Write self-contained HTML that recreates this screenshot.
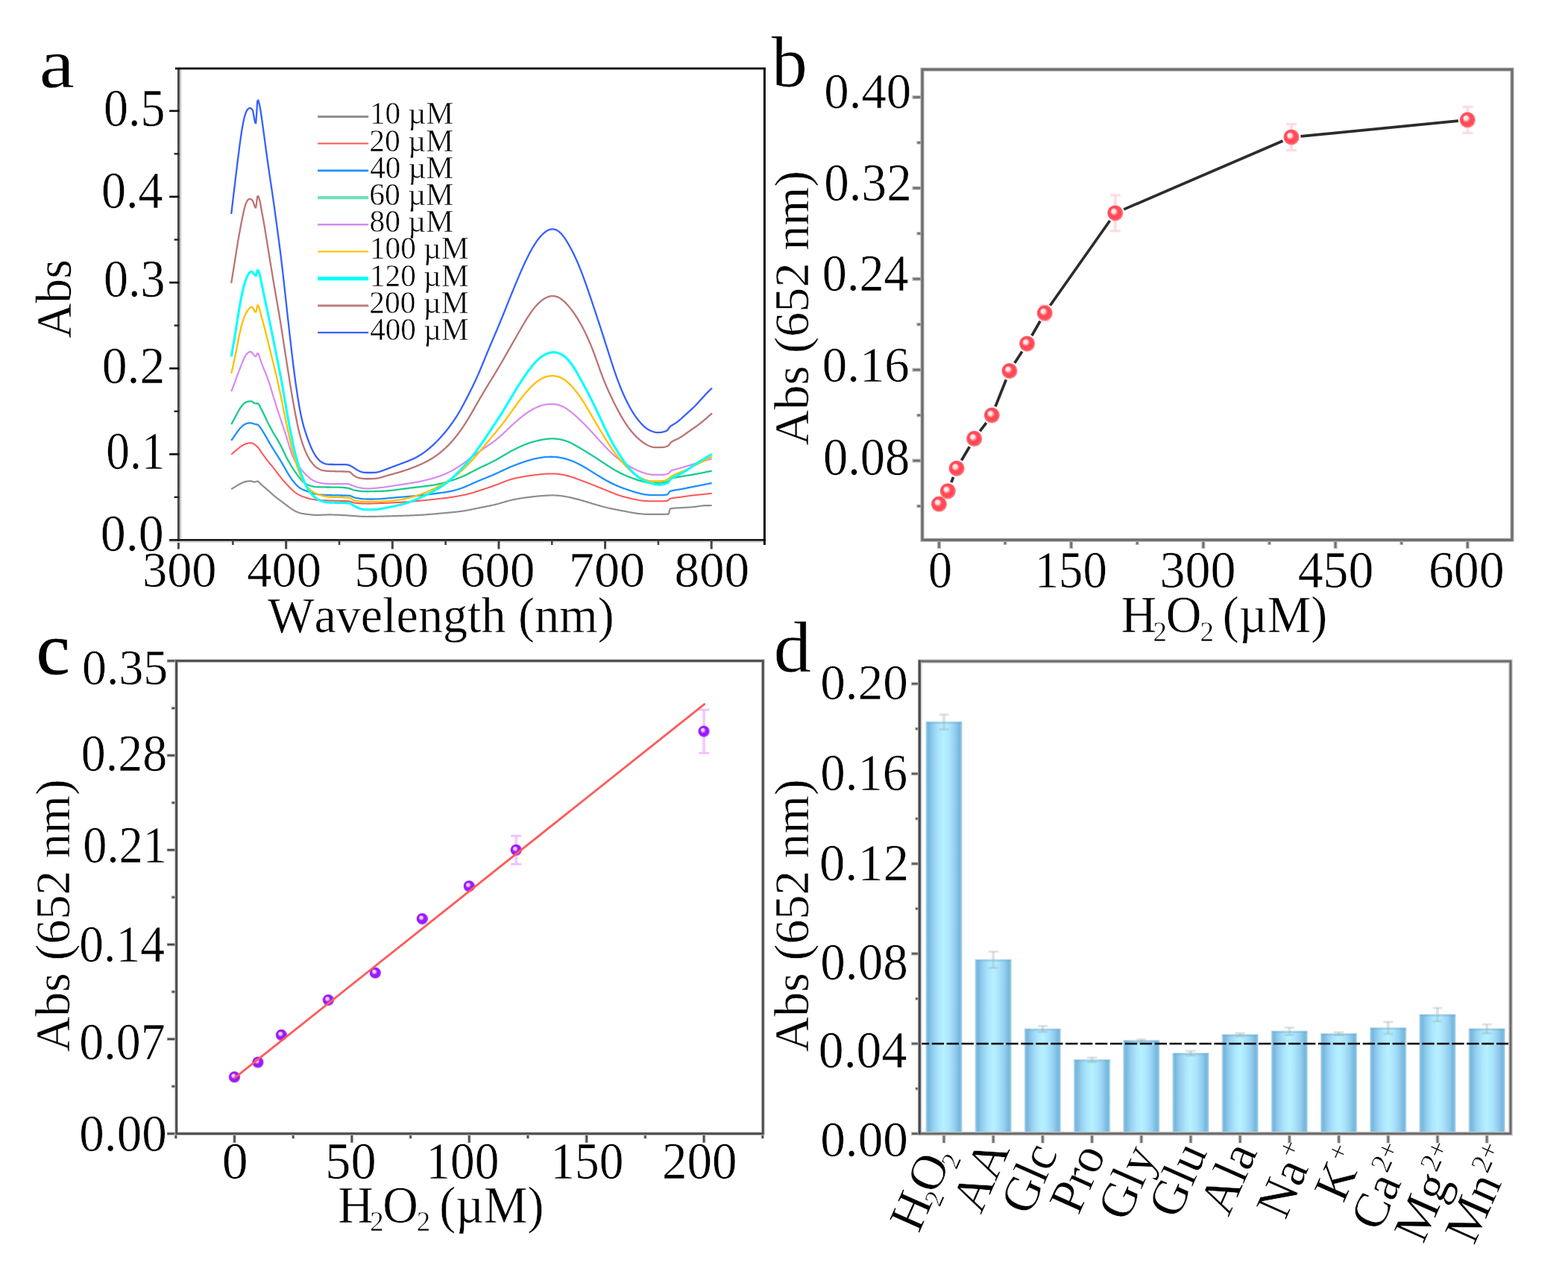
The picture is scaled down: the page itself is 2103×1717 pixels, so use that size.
<!DOCTYPE html>
<html lang="en">
<head>
<meta charset="utf-8">
<title>H2O2 colorimetric detection figure</title>
<style>
html,body{margin:0;padding:0;background:#fff;}
body{width:2103px;height:1717px;overflow:hidden;}
svg{display:block;font-family:'Liberation Serif', serif;}
text{font-family:'Liberation Serif', serif;font-kerning:none;font-variant-ligatures:none;}
.t{stroke:#fff;stroke-width:0.5px;}
</style>
</head>
<body>
<svg width="2103" height="1717" viewBox="0 0 2103 1717">
<defs>
<radialGradient id="gb" cx="0.5" cy="0.5" r="0.5" fx="0.36" fy="0.34"><stop offset="0" stop-color="#ffe9ea"/><stop offset="0.22" stop-color="#ffe9ea"/><stop offset="0.5" stop-color="#ff4a55"/><stop offset="0.8" stop-color="#ff4a55"/><stop offset="1" stop-color="#ff8c95"/></radialGradient>
<radialGradient id="gc" cx="0.5" cy="0.5" r="0.5" fx="0.36" fy="0.34"><stop offset="0" stop-color="#ead0ff"/><stop offset="0.22" stop-color="#ead0ff"/><stop offset="0.5" stop-color="#9a18ff"/><stop offset="0.8" stop-color="#9a18ff"/><stop offset="1" stop-color="#c070ff"/></radialGradient>
<linearGradient id="gd" x1="0" x2="1" y1="0" y2="0"><stop offset="0" stop-color="#8fc6e6"/><stop offset="0.06" stop-color="#74b8de"/><stop offset="0.2" stop-color="#97d0f0"/><stop offset="0.36" stop-color="#abe6fd"/><stop offset="0.5" stop-color="#b7f0ff"/><stop offset="0.64" stop-color="#abe6fd"/><stop offset="0.8" stop-color="#97d0f0"/><stop offset="0.94" stop-color="#74b8de"/><stop offset="1" stop-color="#8fc6e6"/></linearGradient>
</defs>
<rect x="0" y="0" width="2103" height="1717" fill="#ffffff"/>
<path d="M310.2 656.1 L311.2 655.49 L312.2 654.89 L313.2 654.28 L314.2 653.67 L315.2 653.07 L316.2 652.47 L317.2 651.86 L318.2 651.26 L319.2 650.66 L320.2 650.07 L321.2 649.49 L322.2 648.94 L323.2 648.42 L324.2 647.93 L325.2 647.49 L326.2 647.09 L327.2 646.72 L328.2 646.4 L329.2 646.12 L330.2 645.88 L331.2 645.69 L332.2 645.53 L333.2 645.43 L334.2 645.35 L335.2 645.29 L336.2 645.31 L337.2 645.46 L338.2 645.74 L339.2 646.1 L340.2 646.45 L341.2 646.6 L342.2 646.47 L343.2 646.14 L344.2 645.79 L345.2 645.6 L346.2 645.85 L347.2 646.61 L348.2 647.68 L349.2 648.87 L350.2 649.89 L351.2 650.71 L352.2 651.52 L353.2 652.32 L354.2 653.15 L355.2 654 L356.2 654.84 L357.2 655.7 L358.2 656.58 L359.2 657.47 L360.2 658.37 L361.2 659.27 L362.2 660.18 L363.2 661.09 L364.2 661.99 L365.2 662.88 L366.2 663.77 L367.2 664.63 L368.2 665.49 L369.2 666.32 L370.2 667.14 L371.2 667.94 L372.2 668.72 L373.2 669.48 L374.2 670.22 L375.2 670.95 L376.2 671.67 L377.2 672.39 L378.2 673.12 L379.2 673.85 L380.2 674.6 L381.2 675.37 L382.2 676.14 L383.2 676.92 L384.2 677.7 L385.2 678.48 L386.2 679.23 L387.2 679.98 L388.2 680.7 L389.2 681.41 L390.2 682.1 L391.2 682.76 L392.2 683.41 L393.2 684.03 L394.2 684.63 L395.2 685.19 L396.2 685.71 L397.2 686.2 L398.2 686.64 L399.2 687.05 L400.2 687.42 L401.2 687.76 L402.2 688.06 L403.2 688.33 L404.2 688.58 L405.2 688.8 L406.2 688.99 L407.2 689.17 L408.2 689.33 L409.2 689.48 L410.2 689.62 L411.2 689.75 L412.2 689.88 L413.2 690.01 L414.2 690.13 L415.2 690.25 L416.2 690.37 L417.2 690.48 L418.2 690.58 L419.2 690.67 L420.2 690.75 L421.2 690.82 L422.2 690.87 L423.2 690.91 L424.2 690.93 L425.2 690.93 L426.2 690.93 L427.2 690.91 L428.2 690.88 L429.2 690.85 L430.2 690.81 L431.2 690.77 L432.2 690.72 L433.2 690.68 L434.2 690.63 L435.2 690.59 L436.2 690.55 L437.2 690.51 L438.2 690.49 L439.2 690.46 L440.2 690.45 L441.2 690.44 L442.2 690.43 L443.2 690.44 L444.2 690.45 L445.2 690.47 L446.2 690.49 L447.2 690.51 L448.2 690.54 L449.2 690.58 L450.2 690.61 L451.2 690.65 L452.2 690.69 L453.2 690.74 L454.2 690.78 L455.2 690.83 L456.2 690.88 L457.2 690.92 L458.2 690.97 L459.2 691.03 L460.2 691.08 L461.2 691.13 L462.2 691.19 L463.2 691.25 L464.2 691.31 L465.2 691.38 L466.2 691.45 L467.2 691.53 L468.2 691.6 L469.2 691.68 L470.2 691.76 L471.2 691.83 L472.2 691.91 L473.2 691.98 L474.2 692.05 L475.2 692.12 L476.2 692.19 L477.2 692.25 L478.2 692.33 L479.2 692.4 L480.2 692.48 L481.2 692.55 L482.2 692.62 L483.2 692.69 L484.2 692.75 L485.2 692.81 L486.2 692.85 L487.2 692.9 L488.2 692.93 L489.2 692.95 L490.2 692.97 L491.2 692.98 L492.2 692.98 L493.2 692.98 L494.2 692.97 L495.2 692.96 L496.2 692.95 L497.2 692.94 L498.2 692.93 L499.2 692.91 L500.2 692.9 L501.2 692.88 L502.2 692.86 L503.2 692.84 L504.2 692.81 L505.2 692.79 L506.2 692.77 L507.2 692.74 L508.2 692.72 L509.2 692.69 L510.2 692.67 L511.2 692.64 L512.2 692.61 L513.2 692.58 L514.2 692.55 L515.2 692.53 L516.2 692.5 L517.2 692.47 L518.2 692.44 L519.2 692.41 L520.2 692.38 L521.2 692.35 L522.2 692.33 L523.2 692.3 L524.2 692.27 L525.2 692.24 L526.2 692.21 L527.2 692.19 L528.2 692.16 L529.2 692.13 L530.2 692.1 L531.2 692.07 L532.2 692.04 L533.2 692.01 L534.2 691.99 L535.2 691.96 L536.2 691.93 L537.2 691.9 L538.2 691.87 L539.2 691.84 L540.2 691.8 L541.2 691.77 L542.2 691.74 L543.2 691.71 L544.2 691.67 L545.2 691.64 L546.2 691.61 L547.2 691.57 L548.2 691.53 L549.2 691.5 L550.2 691.46 L551.2 691.42 L552.2 691.38 L553.2 691.34 L554.2 691.3 L555.2 691.26 L556.2 691.21 L557.2 691.17 L558.2 691.12 L559.2 691.07 L560.2 691.02 L561.2 690.97 L562.2 690.91 L563.2 690.86 L564.2 690.8 L565.2 690.74 L566.2 690.68 L567.2 690.61 L568.2 690.54 L569.2 690.48 L570.2 690.41 L571.2 690.33 L572.2 690.26 L573.2 690.18 L574.2 690.1 L575.2 690.02 L576.2 689.94 L577.2 689.86 L578.2 689.77 L579.2 689.69 L580.2 689.6 L581.2 689.51 L582.2 689.42 L583.2 689.33 L584.2 689.24 L585.2 689.15 L586.2 689.06 L587.2 688.97 L588.2 688.88 L589.2 688.78 L590.2 688.69 L591.2 688.6 L592.2 688.51 L593.2 688.41 L594.2 688.32 L595.2 688.23 L596.2 688.14 L597.2 688.05 L598.2 687.96 L599.2 687.87 L600.2 687.78 L601.2 687.68 L602.2 687.59 L603.2 687.5 L604.2 687.41 L605.2 687.31 L606.2 687.22 L607.2 687.12 L608.2 687.02 L609.2 686.92 L610.2 686.82 L611.2 686.71 L612.2 686.6 L613.2 686.49 L614.2 686.37 L615.2 686.25 L616.2 686.13 L617.2 686 L618.2 685.86 L619.2 685.73 L620.2 685.58 L621.2 685.43 L622.2 685.27 L623.2 685.11 L624.2 684.94 L625.2 684.77 L626.2 684.59 L627.2 684.41 L628.2 684.22 L629.2 684.02 L630.2 683.83 L631.2 683.63 L632.2 683.42 L633.2 683.22 L634.2 683.01 L635.2 682.8 L636.2 682.59 L637.2 682.39 L638.2 682.18 L639.2 681.97 L640.2 681.76 L641.2 681.56 L642.2 681.35 L643.2 681.15 L644.2 680.95 L645.2 680.75 L646.2 680.55 L647.2 680.36 L648.2 680.16 L649.2 679.97 L650.2 679.77 L651.2 679.58 L652.2 679.38 L653.2 679.19 L654.2 678.99 L655.2 678.79 L656.2 678.59 L657.2 678.38 L658.2 678.18 L659.2 677.96 L660.2 677.74 L661.2 677.52 L662.2 677.29 L663.2 677.05 L664.2 676.81 L665.2 676.56 L666.2 676.3 L667.2 676.03 L668.2 675.76 L669.2 675.48 L670.2 675.2 L671.2 674.91 L672.2 674.62 L673.2 674.32 L674.2 674.03 L675.2 673.73 L676.2 673.43 L677.2 673.14 L678.2 672.85 L679.2 672.57 L680.2 672.29 L681.2 672.02 L682.2 671.75 L683.2 671.49 L684.2 671.24 L685.2 671 L686.2 670.77 L687.2 670.54 L688.2 670.33 L689.2 670.12 L690.2 669.91 L691.2 669.71 L692.2 669.52 L693.2 669.34 L694.2 669.16 L695.2 668.98 L696.2 668.81 L697.2 668.64 L698.2 668.48 L699.2 668.32 L700.2 668.17 L701.2 668.02 L702.2 667.87 L703.2 667.73 L704.2 667.58 L705.2 667.45 L706.2 667.31 L707.2 667.18 L708.2 667.05 L709.2 666.92 L710.2 666.79 L711.2 666.67 L712.2 666.55 L713.2 666.43 L714.2 666.31 L715.2 666.2 L716.2 666.09 L717.2 665.98 L718.2 665.87 L719.2 665.77 L720.2 665.67 L721.2 665.58 L722.2 665.48 L723.2 665.39 L724.2 665.31 L725.2 665.22 L726.2 665.14 L727.2 665.07 L728.2 664.99 L729.2 664.92 L730.2 664.86 L731.2 664.79 L732.2 664.74 L733.2 664.68 L734.2 664.63 L735.2 664.59 L736.2 664.55 L737.2 664.52 L738.2 664.49 L739.2 664.48 L740.2 664.47 L741.2 664.46 L742.2 664.47 L743.2 664.49 L744.2 664.52 L745.2 664.56 L746.2 664.61 L747.2 664.67 L748.2 664.74 L749.2 664.82 L750.2 664.92 L751.2 665.03 L752.2 665.14 L753.2 665.27 L754.2 665.41 L755.2 665.56 L756.2 665.71 L757.2 665.87 L758.2 666.04 L759.2 666.22 L760.2 666.41 L761.2 666.6 L762.2 666.79 L763.2 666.99 L764.2 667.2 L765.2 667.42 L766.2 667.64 L767.2 667.86 L768.2 668.09 L769.2 668.33 L770.2 668.57 L771.2 668.82 L772.2 669.08 L773.2 669.34 L774.2 669.6 L775.2 669.87 L776.2 670.15 L777.2 670.43 L778.2 670.71 L779.2 670.99 L780.2 671.28 L781.2 671.57 L782.2 671.86 L783.2 672.16 L784.2 672.45 L785.2 672.75 L786.2 673.05 L787.2 673.35 L788.2 673.65 L789.2 673.95 L790.2 674.25 L791.2 674.55 L792.2 674.85 L793.2 675.16 L794.2 675.46 L795.2 675.76 L796.2 676.07 L797.2 676.37 L798.2 676.67 L799.2 676.97 L800.2 677.27 L801.2 677.56 L802.2 677.85 L803.2 678.14 L804.2 678.43 L805.2 678.71 L806.2 678.99 L807.2 679.26 L808.2 679.53 L809.2 679.79 L810.2 680.04 L811.2 680.3 L812.2 680.54 L813.2 680.78 L814.2 681.02 L815.2 681.25 L816.2 681.48 L817.2 681.7 L818.2 681.92 L819.2 682.13 L820.2 682.34 L821.2 682.55 L822.2 682.76 L823.2 682.96 L824.2 683.16 L825.2 683.36 L826.2 683.56 L827.2 683.76 L828.2 683.95 L829.2 684.15 L830.2 684.34 L831.2 684.54 L832.2 684.73 L833.2 684.93 L834.2 685.12 L835.2 685.32 L836.2 685.51 L837.2 685.7 L838.2 685.9 L839.2 686.09 L840.2 686.28 L841.2 686.47 L842.2 686.66 L843.2 686.84 L844.2 687.03 L845.2 687.21 L846.2 687.39 L847.2 687.57 L848.2 687.74 L849.2 687.91 L850.2 688.07 L851.2 688.23 L852.2 688.39 L853.2 688.54 L854.2 688.68 L855.2 688.82 L856.2 688.94 L857.2 689.06 L858.2 689.17 L859.2 689.28 L860.2 689.37 L861.2 689.47 L862.2 689.55 L863.2 689.63 L864.2 689.69 L865.2 689.74 L866.2 689.79 L867.2 689.82 L868.2 689.84 L869.2 689.86 L870.2 689.87 L871.2 689.88 L872.2 689.89 L873.2 689.89 L874.2 689.89 L875.2 689.9 L876.2 689.9 L877.2 689.9 L878.2 689.9 L879.2 689.9 L880.2 689.9 L881.2 689.9 L882.2 689.9 L883.2 689.9 L884.2 689.9 L885.2 689.9 L886.2 689.9 L887.2 689.9 L888.2 689.89 L889.2 689.88 L890.2 689.85 L891.2 689.81 L892.2 689.74 L893.2 689.66 L894.2 689.62 L895.2 689.67 L896.2 689.9 L897.2 688.25 L898.2 683.65 L899.2 682.22 L900.2 682.05 L901.2 682.04 L902.2 681.94 L903.2 681.81 L904.2 681.69 L905.2 681.59 L906.2 681.51 L907.2 681.45 L908.2 681.39 L909.2 681.34 L910.2 681.29 L911.2 681.24 L912.2 681.19 L913.2 681.13 L914.2 681.08 L915.2 681.02 L916.2 680.96 L917.2 680.9 L918.2 680.85 L919.2 680.79 L920.2 680.73 L921.2 680.68 L922.2 680.62 L923.2 680.56 L924.2 680.5 L925.2 680.44 L926.2 680.38 L927.2 680.31 L928.2 680.23 L929.2 680.15 L930.2 680.05 L931.2 679.94 L932.2 679.82 L933.2 679.69 L934.2 679.54 L935.2 679.38 L936.2 679.21 L937.2 679.04 L938.2 678.88 L939.2 678.73 L940.2 678.59 L941.2 678.47 L942.2 678.37 L943.2 678.29 L944.2 678.22 L945.2 678.17 L946.2 678.14 L947.2 678.11 L948.2 678.08 L949.2 678.06 L950.2 678.05 L951.2 678.03 L952.2 678.02 L953.2 678.01 L954.2 678.01 L954.7 678" fill="none" stroke="#8e8e8e" stroke-width="2.2" stroke-linejoin="round" stroke-linecap="butt"/>
<path d="M310.2 609.5 L311.2 608.68 L312.2 607.86 L313.2 607.04 L314.2 606.22 L315.2 605.39 L316.2 604.55 L317.2 603.71 L318.2 602.85 L319.2 602 L320.2 601.16 L321.2 600.33 L322.2 599.54 L323.2 598.79 L324.2 598.11 L325.2 597.48 L326.2 596.92 L327.2 596.42 L328.2 595.97 L329.2 595.58 L330.2 595.23 L331.2 594.94 L332.2 594.69 L333.2 594.5 L334.2 594.33 L335.2 594.21 L336.2 594.16 L337.2 594.25 L338.2 594.5 L339.2 594.92 L340.2 595.44 L341.2 596.04 L342.2 596.7 L343.2 597.51 L344.2 598.44 L345.2 599.45 L346.2 600.53 L347.2 601.77 L348.2 603.15 L349.2 604.64 L350.2 606.13 L351.2 607.58 L352.2 608.98 L353.2 610.38 L354.2 611.77 L355.2 613.13 L356.2 614.48 L357.2 615.81 L358.2 617.1 L359.2 618.37 L360.2 619.62 L361.2 620.84 L362.2 622.05 L363.2 623.26 L364.2 624.46 L365.2 625.67 L366.2 626.9 L367.2 628.14 L368.2 629.4 L369.2 630.69 L370.2 632.01 L371.2 633.34 L372.2 634.69 L373.2 636.03 L374.2 637.35 L375.2 638.66 L376.2 639.93 L377.2 641.17 L378.2 642.39 L379.2 643.57 L380.2 644.74 L381.2 645.89 L382.2 647.02 L383.2 648.14 L384.2 649.24 L385.2 650.33 L386.2 651.4 L387.2 652.45 L388.2 653.49 L389.2 654.5 L390.2 655.49 L391.2 656.45 L392.2 657.39 L393.2 658.29 L394.2 659.15 L395.2 659.98 L396.2 660.76 L397.2 661.49 L398.2 662.16 L399.2 662.79 L400.2 663.37 L401.2 663.91 L402.2 664.41 L403.2 664.88 L404.2 665.32 L405.2 665.74 L406.2 666.15 L407.2 666.53 L408.2 666.9 L409.2 667.25 L410.2 667.58 L411.2 667.9 L412.2 668.2 L413.2 668.48 L414.2 668.74 L415.2 668.99 L416.2 669.22 L417.2 669.44 L418.2 669.63 L419.2 669.82 L420.2 669.98 L421.2 670.13 L422.2 670.27 L423.2 670.39 L424.2 670.51 L425.2 670.61 L426.2 670.7 L427.2 670.79 L428.2 670.86 L429.2 670.93 L430.2 671 L431.2 671.05 L432.2 671.1 L433.2 671.15 L434.2 671.2 L435.2 671.24 L436.2 671.27 L437.2 671.31 L438.2 671.35 L439.2 671.38 L440.2 671.41 L441.2 671.44 L442.2 671.47 L443.2 671.5 L444.2 671.53 L445.2 671.56 L446.2 671.58 L447.2 671.61 L448.2 671.64 L449.2 671.67 L450.2 671.71 L451.2 671.74 L452.2 671.77 L453.2 671.8 L454.2 671.83 L455.2 671.87 L456.2 671.9 L457.2 671.93 L458.2 671.96 L459.2 671.99 L460.2 672.02 L461.2 672.06 L462.2 672.09 L463.2 672.13 L464.2 672.17 L465.2 672.22 L466.2 672.27 L467.2 672.33 L468.2 672.4 L469.2 672.54 L470.2 672.79 L471.2 673.11 L472.2 673.47 L473.2 673.85 L474.2 674.19 L475.2 674.48 L476.2 674.67 L477.2 674.77 L478.2 674.87 L479.2 674.97 L480.2 675.07 L481.2 675.16 L482.2 675.23 L483.2 675.3 L484.2 675.37 L485.2 675.42 L486.2 675.47 L487.2 675.51 L488.2 675.54 L489.2 675.55 L490.2 675.56 L491.2 675.57 L492.2 675.56 L493.2 675.55 L494.2 675.54 L495.2 675.52 L496.2 675.5 L497.2 675.47 L498.2 675.45 L499.2 675.42 L500.2 675.39 L501.2 675.36 L502.2 675.33 L503.2 675.3 L504.2 675.27 L505.2 675.24 L506.2 675.21 L507.2 675.18 L508.2 675.14 L509.2 675.11 L510.2 675.07 L511.2 675.04 L512.2 675 L513.2 674.96 L514.2 674.92 L515.2 674.89 L516.2 674.85 L517.2 674.8 L518.2 674.76 L519.2 674.72 L520.2 674.68 L521.2 674.63 L522.2 674.59 L523.2 674.54 L524.2 674.49 L525.2 674.44 L526.2 674.39 L527.2 674.34 L528.2 674.29 L529.2 674.24 L530.2 674.19 L531.2 674.13 L532.2 674.08 L533.2 674.02 L534.2 673.96 L535.2 673.9 L536.2 673.84 L537.2 673.78 L538.2 673.71 L539.2 673.65 L540.2 673.58 L541.2 673.51 L542.2 673.44 L543.2 673.37 L544.2 673.3 L545.2 673.22 L546.2 673.15 L547.2 673.07 L548.2 672.99 L549.2 672.91 L550.2 672.83 L551.2 672.75 L552.2 672.67 L553.2 672.59 L554.2 672.51 L555.2 672.42 L556.2 672.33 L557.2 672.25 L558.2 672.16 L559.2 672.07 L560.2 671.98 L561.2 671.89 L562.2 671.8 L563.2 671.71 L564.2 671.61 L565.2 671.52 L566.2 671.42 L567.2 671.33 L568.2 671.23 L569.2 671.13 L570.2 671.03 L571.2 670.93 L572.2 670.83 L573.2 670.73 L574.2 670.62 L575.2 670.52 L576.2 670.42 L577.2 670.31 L578.2 670.2 L579.2 670.1 L580.2 669.99 L581.2 669.88 L582.2 669.77 L583.2 669.66 L584.2 669.55 L585.2 669.44 L586.2 669.33 L587.2 669.22 L588.2 669.11 L589.2 668.99 L590.2 668.88 L591.2 668.76 L592.2 668.64 L593.2 668.53 L594.2 668.41 L595.2 668.28 L596.2 668.16 L597.2 668.04 L598.2 667.91 L599.2 667.78 L600.2 667.65 L601.2 667.51 L602.2 667.38 L603.2 667.24 L604.2 667.1 L605.2 666.95 L606.2 666.8 L607.2 666.65 L608.2 666.5 L609.2 666.34 L610.2 666.18 L611.2 666.01 L612.2 665.84 L613.2 665.67 L614.2 665.49 L615.2 665.31 L616.2 665.12 L617.2 664.94 L618.2 664.74 L619.2 664.54 L620.2 664.34 L621.2 664.13 L622.2 663.92 L623.2 663.7 L624.2 663.48 L625.2 663.25 L626.2 663.02 L627.2 662.78 L628.2 662.53 L629.2 662.28 L630.2 662.02 L631.2 661.75 L632.2 661.47 L633.2 661.19 L634.2 660.91 L635.2 660.61 L636.2 660.31 L637.2 660 L638.2 659.69 L639.2 659.37 L640.2 659.05 L641.2 658.73 L642.2 658.4 L643.2 658.07 L644.2 657.73 L645.2 657.4 L646.2 657.06 L647.2 656.73 L648.2 656.39 L649.2 656.06 L650.2 655.72 L651.2 655.39 L652.2 655.05 L653.2 654.72 L654.2 654.39 L655.2 654.05 L656.2 653.71 L657.2 653.37 L658.2 653.03 L659.2 652.69 L660.2 652.34 L661.2 651.99 L662.2 651.63 L663.2 651.27 L664.2 650.9 L665.2 650.53 L666.2 650.15 L667.2 649.76 L668.2 649.37 L669.2 648.98 L670.2 648.58 L671.2 648.18 L672.2 647.78 L673.2 647.38 L674.2 646.99 L675.2 646.59 L676.2 646.2 L677.2 645.82 L678.2 645.44 L679.2 645.07 L680.2 644.72 L681.2 644.37 L682.2 644.04 L683.2 643.72 L684.2 643.41 L685.2 643.11 L686.2 642.82 L687.2 642.54 L688.2 642.28 L689.2 642.03 L690.2 641.78 L691.2 641.54 L692.2 641.32 L693.2 641.1 L694.2 640.88 L695.2 640.68 L696.2 640.48 L697.2 640.28 L698.2 640.09 L699.2 639.91 L700.2 639.73 L701.2 639.55 L702.2 639.38 L703.2 639.21 L704.2 639.04 L705.2 638.88 L706.2 638.72 L707.2 638.56 L708.2 638.4 L709.2 638.25 L710.2 638.1 L711.2 637.95 L712.2 637.81 L713.2 637.67 L714.2 637.53 L715.2 637.39 L716.2 637.26 L717.2 637.13 L718.2 637 L719.2 636.87 L720.2 636.75 L721.2 636.64 L722.2 636.53 L723.2 636.42 L724.2 636.31 L725.2 636.21 L726.2 636.12 L727.2 636.03 L728.2 635.94 L729.2 635.86 L730.2 635.79 L731.2 635.72 L732.2 635.65 L733.2 635.59 L734.2 635.54 L735.2 635.5 L736.2 635.46 L737.2 635.44 L738.2 635.42 L739.2 635.41 L740.2 635.42 L741.2 635.43 L742.2 635.46 L743.2 635.5 L744.2 635.55 L745.2 635.61 L746.2 635.68 L747.2 635.77 L748.2 635.87 L749.2 635.98 L750.2 636.11 L751.2 636.25 L752.2 636.39 L753.2 636.55 L754.2 636.73 L755.2 636.91 L756.2 637.11 L757.2 637.31 L758.2 637.53 L759.2 637.76 L760.2 638 L761.2 638.26 L762.2 638.53 L763.2 638.8 L764.2 639.09 L765.2 639.39 L766.2 639.7 L767.2 640.02 L768.2 640.35 L769.2 640.69 L770.2 641.03 L771.2 641.38 L772.2 641.74 L773.2 642.1 L774.2 642.46 L775.2 642.83 L776.2 643.2 L777.2 643.57 L778.2 643.94 L779.2 644.32 L780.2 644.69 L781.2 645.07 L782.2 645.45 L783.2 645.83 L784.2 646.22 L785.2 646.6 L786.2 646.99 L787.2 647.37 L788.2 647.76 L789.2 648.15 L790.2 648.54 L791.2 648.93 L792.2 649.32 L793.2 649.72 L794.2 650.11 L795.2 650.5 L796.2 650.9 L797.2 651.3 L798.2 651.69 L799.2 652.09 L800.2 652.49 L801.2 652.89 L802.2 653.29 L803.2 653.69 L804.2 654.09 L805.2 654.5 L806.2 654.9 L807.2 655.3 L808.2 655.71 L809.2 656.12 L810.2 656.52 L811.2 656.93 L812.2 657.34 L813.2 657.75 L814.2 658.16 L815.2 658.57 L816.2 658.98 L817.2 659.39 L818.2 659.8 L819.2 660.21 L820.2 660.61 L821.2 661.01 L822.2 661.41 L823.2 661.81 L824.2 662.2 L825.2 662.58 L826.2 662.96 L827.2 663.33 L828.2 663.69 L829.2 664.04 L830.2 664.38 L831.2 664.71 L832.2 665.03 L833.2 665.35 L834.2 665.65 L835.2 665.94 L836.2 666.22 L837.2 666.5 L838.2 666.77 L839.2 667.03 L840.2 667.28 L841.2 667.53 L842.2 667.77 L843.2 668.01 L844.2 668.24 L845.2 668.48 L846.2 668.7 L847.2 668.93 L848.2 669.15 L849.2 669.37 L850.2 669.59 L851.2 669.8 L852.2 670.01 L853.2 670.22 L854.2 670.41 L855.2 670.6 L856.2 670.78 L857.2 670.96 L858.2 671.12 L859.2 671.26 L860.2 671.4 L861.2 671.55 L862.2 671.67 L863.2 671.79 L864.2 671.88 L865.2 671.96 L866.2 672.02 L867.2 672.07 L868.2 672.11 L869.2 672.14 L870.2 672.16 L871.2 672.17 L872.2 672.18 L873.2 672.19 L874.2 672.19 L875.2 672.2 L876.2 672.2 L877.2 672.2 L878.2 672.2 L879.2 672.2 L880.2 672.2 L881.2 672.2 L882.2 672.2 L883.2 672.2 L884.2 672.2 L885.2 672.2 L886.2 672.2 L887.2 672.2 L888.2 672.19 L889.2 672.17 L890.2 672.14 L891.2 672.1 L892.2 672.04 L893.2 672 L894.2 671.99 L895.2 671.74 L896.2 671.01 L897.2 670.01 L898.2 669.18 L899.2 668.79 L900.2 668.54 L901.2 668.35 L902.2 668.16 L903.2 667.99 L904.2 667.83 L905.2 667.69 L906.2 667.55 L907.2 667.42 L908.2 667.3 L909.2 667.18 L910.2 667.06 L911.2 666.93 L912.2 666.81 L913.2 666.68 L914.2 666.55 L915.2 666.41 L916.2 666.27 L917.2 666.13 L918.2 665.98 L919.2 665.84 L920.2 665.69 L921.2 665.55 L922.2 665.41 L923.2 665.26 L924.2 665.13 L925.2 664.99 L926.2 664.86 L927.2 664.73 L928.2 664.6 L929.2 664.48 L930.2 664.36 L931.2 664.25 L932.2 664.14 L933.2 664.03 L934.2 663.93 L935.2 663.84 L936.2 663.74 L937.2 663.65 L938.2 663.56 L939.2 663.46 L940.2 663.37 L941.2 663.27 L942.2 663.17 L943.2 663.07 L944.2 662.97 L945.2 662.86 L946.2 662.75 L947.2 662.63 L948.2 662.52 L949.2 662.4 L950.2 662.28 L951.2 662.16 L952.2 662.04 L953.2 661.93 L954.2 661.81 L954.7 661.7" fill="none" stroke="#ff5555" stroke-width="2.0" stroke-linejoin="round" stroke-linecap="butt"/>
<path d="M310.2 590.9 L311.2 589.47 L312.2 588.04 L313.2 586.61 L314.2 585.18 L315.2 583.75 L316.2 582.32 L317.2 580.9 L318.2 579.49 L319.2 578.11 L320.2 576.78 L321.2 575.52 L322.2 574.33 L323.2 573.23 L324.2 572.23 L325.2 571.33 L326.2 570.53 L327.2 569.83 L328.2 569.23 L329.2 568.72 L330.2 568.3 L331.2 567.97 L332.2 567.71 L333.2 567.54 L334.2 567.39 L335.2 567.32 L336.2 567.36 L337.2 567.5 L338.2 567.73 L339.2 568.04 L340.2 568.37 L341.2 568.67 L342.2 568.91 L343.2 569.12 L344.2 569.34 L345.2 569.63 L346.2 570.06 L347.2 570.92 L348.2 572.17 L349.2 573.7 L350.2 575.22 L351.2 576.67 L352.2 578.21 L353.2 579.8 L354.2 581.45 L355.2 583.13 L356.2 584.83 L357.2 586.56 L358.2 588.3 L359.2 590.06 L360.2 591.82 L361.2 593.57 L362.2 595.29 L363.2 596.99 L364.2 598.65 L365.2 600.29 L366.2 601.91 L367.2 603.51 L368.2 605.1 L369.2 606.69 L370.2 608.27 L371.2 609.85 L372.2 611.43 L373.2 613.02 L374.2 614.61 L375.2 616.22 L376.2 617.84 L377.2 619.48 L378.2 621.14 L379.2 622.83 L380.2 624.55 L381.2 626.3 L382.2 628.05 L383.2 629.82 L384.2 631.58 L385.2 633.31 L386.2 635.02 L387.2 636.69 L388.2 638.31 L389.2 639.88 L390.2 641.38 L391.2 642.82 L392.2 644.19 L393.2 645.49 L394.2 646.73 L395.2 647.91 L396.2 649.04 L397.2 650.11 L398.2 651.13 L399.2 652.09 L400.2 652.98 L401.2 653.79 L402.2 654.53 L403.2 655.18 L404.2 655.76 L405.2 656.28 L406.2 656.75 L407.2 657.18 L408.2 657.59 L409.2 657.99 L410.2 658.38 L411.2 658.77 L412.2 659.16 L413.2 659.54 L414.2 659.91 L415.2 660.27 L416.2 660.61 L417.2 660.94 L418.2 661.25 L419.2 661.54 L420.2 661.81 L421.2 662.07 L422.2 662.32 L423.2 662.55 L424.2 662.76 L425.2 662.96 L426.2 663.14 L427.2 663.3 L428.2 663.44 L429.2 663.56 L430.2 663.66 L431.2 663.74 L432.2 663.81 L433.2 663.87 L434.2 663.93 L435.2 663.97 L436.2 664.02 L437.2 664.06 L438.2 664.09 L439.2 664.13 L440.2 664.16 L441.2 664.19 L442.2 664.21 L443.2 664.24 L444.2 664.26 L445.2 664.29 L446.2 664.31 L447.2 664.33 L448.2 664.34 L449.2 664.36 L450.2 664.37 L451.2 664.39 L452.2 664.4 L453.2 664.42 L454.2 664.43 L455.2 664.45 L456.2 664.46 L457.2 664.48 L458.2 664.5 L459.2 664.52 L460.2 664.54 L461.2 664.56 L462.2 664.58 L463.2 664.61 L464.2 664.65 L465.2 664.68 L466.2 664.71 L467.2 664.75 L468.2 664.8 L469.2 664.94 L470.2 665.22 L471.2 665.6 L472.2 666.05 L473.2 666.52 L474.2 666.97 L475.2 667.36 L476.2 667.66 L477.2 667.84 L478.2 668.03 L479.2 668.22 L480.2 668.41 L481.2 668.58 L482.2 668.73 L483.2 668.87 L484.2 669.01 L485.2 669.12 L486.2 669.22 L487.2 669.3 L488.2 669.37 L489.2 669.41 L490.2 669.45 L491.2 669.47 L492.2 669.48 L493.2 669.49 L494.2 669.5 L495.2 669.5 L496.2 669.5 L497.2 669.5 L498.2 669.5 L499.2 669.5 L500.2 669.5 L501.2 669.49 L502.2 669.48 L503.2 669.47 L504.2 669.45 L505.2 669.43 L506.2 669.4 L507.2 669.36 L508.2 669.31 L509.2 669.26 L510.2 669.2 L511.2 669.13 L512.2 669.06 L513.2 668.99 L514.2 668.91 L515.2 668.83 L516.2 668.74 L517.2 668.65 L518.2 668.56 L519.2 668.46 L520.2 668.37 L521.2 668.27 L522.2 668.18 L523.2 668.08 L524.2 667.99 L525.2 667.89 L526.2 667.8 L527.2 667.71 L528.2 667.62 L529.2 667.53 L530.2 667.44 L531.2 667.36 L532.2 667.27 L533.2 667.19 L534.2 667.1 L535.2 667.02 L536.2 666.94 L537.2 666.86 L538.2 666.78 L539.2 666.7 L540.2 666.63 L541.2 666.55 L542.2 666.47 L543.2 666.4 L544.2 666.32 L545.2 666.24 L546.2 666.16 L547.2 666.08 L548.2 666 L549.2 665.92 L550.2 665.83 L551.2 665.75 L552.2 665.66 L553.2 665.57 L554.2 665.48 L555.2 665.39 L556.2 665.29 L557.2 665.2 L558.2 665.1 L559.2 664.99 L560.2 664.89 L561.2 664.78 L562.2 664.68 L563.2 664.57 L564.2 664.45 L565.2 664.34 L566.2 664.23 L567.2 664.11 L568.2 663.99 L569.2 663.87 L570.2 663.75 L571.2 663.63 L572.2 663.5 L573.2 663.38 L574.2 663.25 L575.2 663.13 L576.2 663 L577.2 662.88 L578.2 662.75 L579.2 662.62 L580.2 662.5 L581.2 662.37 L582.2 662.25 L583.2 662.12 L584.2 661.99 L585.2 661.87 L586.2 661.74 L587.2 661.62 L588.2 661.49 L589.2 661.36 L590.2 661.23 L591.2 661.1 L592.2 660.97 L593.2 660.83 L594.2 660.69 L595.2 660.55 L596.2 660.4 L597.2 660.25 L598.2 660.09 L599.2 659.93 L600.2 659.76 L601.2 659.58 L602.2 659.4 L603.2 659.2 L604.2 659 L605.2 658.79 L606.2 658.57 L607.2 658.34 L608.2 658.1 L609.2 657.85 L610.2 657.59 L611.2 657.32 L612.2 657.05 L613.2 656.76 L614.2 656.45 L615.2 656.14 L616.2 655.82 L617.2 655.48 L618.2 655.14 L619.2 654.78 L620.2 654.41 L621.2 654.03 L622.2 653.64 L623.2 653.23 L624.2 652.82 L625.2 652.4 L626.2 651.97 L627.2 651.53 L628.2 651.09 L629.2 650.64 L630.2 650.19 L631.2 649.73 L632.2 649.28 L633.2 648.82 L634.2 648.37 L635.2 647.92 L636.2 647.47 L637.2 647.03 L638.2 646.59 L639.2 646.15 L640.2 645.72 L641.2 645.29 L642.2 644.87 L643.2 644.45 L644.2 644.04 L645.2 643.62 L646.2 643.22 L647.2 642.81 L648.2 642.4 L649.2 642 L650.2 641.6 L651.2 641.19 L652.2 640.79 L653.2 640.39 L654.2 639.98 L655.2 639.58 L656.2 639.17 L657.2 638.76 L658.2 638.35 L659.2 637.94 L660.2 637.52 L661.2 637.09 L662.2 636.66 L663.2 636.23 L664.2 635.79 L665.2 635.35 L666.2 634.89 L667.2 634.44 L668.2 633.97 L669.2 633.5 L670.2 633.03 L671.2 632.56 L672.2 632.08 L673.2 631.6 L674.2 631.12 L675.2 630.64 L676.2 630.17 L677.2 629.69 L678.2 629.23 L679.2 628.77 L680.2 628.31 L681.2 627.86 L682.2 627.42 L683.2 626.99 L684.2 626.56 L685.2 626.14 L686.2 625.73 L687.2 625.32 L688.2 624.92 L689.2 624.53 L690.2 624.14 L691.2 623.75 L692.2 623.37 L693.2 622.99 L694.2 622.62 L695.2 622.25 L696.2 621.89 L697.2 621.53 L698.2 621.17 L699.2 620.81 L700.2 620.47 L701.2 620.12 L702.2 619.78 L703.2 619.45 L704.2 619.12 L705.2 618.8 L706.2 618.48 L707.2 618.17 L708.2 617.87 L709.2 617.57 L710.2 617.28 L711.2 617 L712.2 616.73 L713.2 616.46 L714.2 616.2 L715.2 615.95 L716.2 615.7 L717.2 615.46 L718.2 615.24 L719.2 615.02 L720.2 614.8 L721.2 614.6 L722.2 614.41 L723.2 614.23 L724.2 614.05 L725.2 613.89 L726.2 613.74 L727.2 613.6 L728.2 613.46 L729.2 613.34 L730.2 613.23 L731.2 613.13 L732.2 613.05 L733.2 612.97 L734.2 612.9 L735.2 612.85 L736.2 612.81 L737.2 612.78 L738.2 612.76 L739.2 612.76 L740.2 612.77 L741.2 612.79 L742.2 612.83 L743.2 612.88 L744.2 612.95 L745.2 613.03 L746.2 613.13 L747.2 613.24 L748.2 613.37 L749.2 613.51 L750.2 613.67 L751.2 613.84 L752.2 614.02 L753.2 614.22 L754.2 614.43 L755.2 614.65 L756.2 614.89 L757.2 615.14 L758.2 615.4 L759.2 615.68 L760.2 615.97 L761.2 616.27 L762.2 616.59 L763.2 616.92 L764.2 617.26 L765.2 617.62 L766.2 618 L767.2 618.38 L768.2 618.78 L769.2 619.19 L770.2 619.62 L771.2 620.06 L772.2 620.51 L773.2 620.97 L774.2 621.45 L775.2 621.94 L776.2 622.44 L777.2 622.95 L778.2 623.47 L779.2 624.01 L780.2 624.55 L781.2 625.11 L782.2 625.68 L783.2 626.25 L784.2 626.84 L785.2 627.43 L786.2 628.03 L787.2 628.64 L788.2 629.25 L789.2 629.86 L790.2 630.48 L791.2 631.11 L792.2 631.73 L793.2 632.36 L794.2 632.99 L795.2 633.62 L796.2 634.24 L797.2 634.87 L798.2 635.49 L799.2 636.12 L800.2 636.74 L801.2 637.36 L802.2 637.98 L803.2 638.59 L804.2 639.2 L805.2 639.8 L806.2 640.41 L807.2 641 L808.2 641.59 L809.2 642.18 L810.2 642.76 L811.2 643.33 L812.2 643.9 L813.2 644.45 L814.2 645 L815.2 645.55 L816.2 646.08 L817.2 646.61 L818.2 647.13 L819.2 647.63 L820.2 648.14 L821.2 648.63 L822.2 649.11 L823.2 649.59 L824.2 650.06 L825.2 650.52 L826.2 650.97 L827.2 651.41 L828.2 651.85 L829.2 652.27 L830.2 652.69 L831.2 653.1 L832.2 653.5 L833.2 653.89 L834.2 654.27 L835.2 654.65 L836.2 655.02 L837.2 655.38 L838.2 655.74 L839.2 656.09 L840.2 656.44 L841.2 656.78 L842.2 657.12 L843.2 657.45 L844.2 657.78 L845.2 658.11 L846.2 658.43 L847.2 658.75 L848.2 659.07 L849.2 659.39 L850.2 659.7 L851.2 660 L852.2 660.3 L853.2 660.6 L854.2 660.89 L855.2 661.16 L856.2 661.43 L857.2 661.69 L858.2 661.94 L859.2 662.17 L860.2 662.39 L861.2 662.61 L862.2 662.82 L863.2 663.01 L864.2 663.19 L865.2 663.34 L866.2 663.49 L867.2 663.62 L868.2 663.73 L869.2 663.83 L870.2 663.92 L871.2 663.99 L872.2 664.05 L873.2 664.09 L874.2 664.13 L875.2 664.15 L876.2 664.16 L877.2 664.17 L878.2 664.18 L879.2 664.18 L880.2 664.18 L881.2 664.18 L882.2 664.17 L883.2 664.16 L884.2 664.15 L885.2 664.14 L886.2 664.13 L887.2 664.11 L888.2 664.09 L889.2 664.04 L890.2 663.98 L891.2 663.9 L892.2 663.81 L893.2 663.72 L894.2 663.68 L895.2 663.28 L896.2 662.15 L897.2 660.64 L898.2 659.4 L899.2 658.86 L900.2 658.53 L901.2 658.29 L902.2 658.06 L903.2 657.84 L904.2 657.64 L905.2 657.46 L906.2 657.3 L907.2 657.14 L908.2 656.98 L909.2 656.83 L910.2 656.68 L911.2 656.53 L912.2 656.37 L913.2 656.2 L914.2 656.02 L915.2 655.84 L916.2 655.65 L917.2 655.46 L918.2 655.26 L919.2 655.06 L920.2 654.86 L921.2 654.66 L922.2 654.46 L923.2 654.25 L924.2 654.05 L925.2 653.85 L926.2 653.65 L927.2 653.45 L928.2 653.24 L929.2 653.04 L930.2 652.84 L931.2 652.64 L932.2 652.45 L933.2 652.25 L934.2 652.05 L935.2 651.86 L936.2 651.66 L937.2 651.46 L938.2 651.27 L939.2 651.07 L940.2 650.87 L941.2 650.67 L942.2 650.47 L943.2 650.27 L944.2 650.07 L945.2 649.87 L946.2 649.67 L947.2 649.46 L948.2 649.26 L949.2 649.05 L950.2 648.85 L951.2 648.65 L952.2 648.46 L953.2 648.27 L954.2 648.08 L954.7 647.9" fill="none" stroke="#1e90ff" stroke-width="2.3" stroke-linejoin="round" stroke-linecap="butt"/>
<path d="M310.2 569.3 L311.2 567.47 L312.2 565.63 L313.2 563.78 L314.2 561.9 L315.2 560.01 L316.2 558.11 L317.2 556.21 L318.2 554.33 L319.2 552.49 L320.2 550.71 L321.2 549.02 L322.2 547.42 L323.2 545.94 L324.2 544.58 L325.2 543.36 L326.2 542.27 L327.2 541.33 L328.2 540.54 L329.2 539.89 L330.2 539.37 L331.2 538.98 L332.2 538.69 L333.2 538.51 L334.2 538.37 L335.2 538.31 L336.2 538.29 L337.2 538.35 L338.2 538.75 L339.2 539.45 L340.2 540.26 L341.2 540.78 L342.2 540.95 L343.2 541.05 L344.2 541.14 L345.2 541.26 L346.2 541.52 L347.2 542.5 L348.2 544.15 L349.2 546.24 L350.2 548.26 L351.2 550.14 L352.2 552.11 L353.2 554.16 L354.2 556.27 L355.2 558.4 L356.2 560.53 L357.2 562.66 L358.2 564.78 L359.2 566.87 L360.2 568.9 L361.2 570.88 L362.2 572.79 L363.2 574.64 L364.2 576.43 L365.2 578.17 L366.2 579.87 L367.2 581.54 L368.2 583.19 L369.2 584.83 L370.2 586.48 L371.2 588.15 L372.2 589.84 L373.2 591.56 L374.2 593.34 L375.2 595.17 L376.2 597.06 L377.2 599.02 L378.2 601.03 L379.2 603.1 L380.2 605.19 L381.2 607.29 L382.2 609.37 L383.2 611.41 L384.2 613.4 L385.2 615.33 L386.2 617.2 L387.2 619.01 L388.2 620.77 L389.2 622.49 L390.2 624.17 L391.2 625.81 L392.2 627.42 L393.2 628.99 L394.2 630.53 L395.2 632.03 L396.2 633.5 L397.2 634.93 L398.2 636.34 L399.2 637.71 L400.2 639.05 L401.2 640.36 L402.2 641.63 L403.2 642.84 L404.2 643.98 L405.2 645.04 L406.2 646.02 L407.2 646.89 L408.2 647.68 L409.2 648.38 L410.2 649.01 L411.2 649.56 L412.2 650.05 L413.2 650.49 L414.2 650.89 L415.2 651.25 L416.2 651.57 L417.2 651.86 L418.2 652.13 L419.2 652.37 L420.2 652.57 L421.2 652.75 L422.2 652.9 L423.2 653.02 L424.2 653.11 L425.2 653.18 L426.2 653.24 L427.2 653.28 L428.2 653.31 L429.2 653.34 L430.2 653.36 L431.2 653.39 L432.2 653.4 L433.2 653.42 L434.2 653.43 L435.2 653.45 L436.2 653.46 L437.2 653.47 L438.2 653.48 L439.2 653.49 L440.2 653.5 L441.2 653.5 L442.2 653.51 L443.2 653.52 L444.2 653.53 L445.2 653.54 L446.2 653.55 L447.2 653.56 L448.2 653.57 L449.2 653.58 L450.2 653.6 L451.2 653.61 L452.2 653.63 L453.2 653.65 L454.2 653.68 L455.2 653.7 L456.2 653.74 L457.2 653.78 L458.2 653.83 L459.2 653.89 L460.2 653.96 L461.2 654.04 L462.2 654.14 L463.2 654.26 L464.2 654.41 L465.2 654.57 L466.2 654.73 L467.2 654.92 L468.2 655.15 L469.2 655.45 L470.2 655.79 L471.2 656.16 L472.2 656.54 L473.2 656.91 L474.2 657.25 L475.2 657.54 L476.2 657.76 L477.2 657.92 L478.2 658.08 L479.2 658.24 L480.2 658.39 L481.2 658.53 L482.2 658.66 L483.2 658.78 L484.2 658.89 L485.2 658.99 L486.2 659.07 L487.2 659.13 L488.2 659.18 L489.2 659.22 L490.2 659.24 L491.2 659.25 L492.2 659.25 L493.2 659.24 L494.2 659.23 L495.2 659.21 L496.2 659.19 L497.2 659.16 L498.2 659.14 L499.2 659.11 L500.2 659.08 L501.2 659.05 L502.2 659.03 L503.2 659 L504.2 658.98 L505.2 658.95 L506.2 658.93 L507.2 658.91 L508.2 658.88 L509.2 658.86 L510.2 658.83 L511.2 658.8 L512.2 658.77 L513.2 658.73 L514.2 658.7 L515.2 658.65 L516.2 658.6 L517.2 658.55 L518.2 658.49 L519.2 658.42 L520.2 658.34 L521.2 658.25 L522.2 658.16 L523.2 658.06 L524.2 657.95 L525.2 657.84 L526.2 657.72 L527.2 657.6 L528.2 657.47 L529.2 657.35 L530.2 657.22 L531.2 657.09 L532.2 656.95 L533.2 656.82 L534.2 656.69 L535.2 656.55 L536.2 656.42 L537.2 656.28 L538.2 656.15 L539.2 656.02 L540.2 655.88 L541.2 655.75 L542.2 655.62 L543.2 655.49 L544.2 655.36 L545.2 655.24 L546.2 655.11 L547.2 654.98 L548.2 654.86 L549.2 654.73 L550.2 654.61 L551.2 654.48 L552.2 654.36 L553.2 654.24 L554.2 654.11 L555.2 653.99 L556.2 653.87 L557.2 653.74 L558.2 653.62 L559.2 653.5 L560.2 653.38 L561.2 653.26 L562.2 653.14 L563.2 653.02 L564.2 652.91 L565.2 652.79 L566.2 652.67 L567.2 652.55 L568.2 652.43 L569.2 652.32 L570.2 652.2 L571.2 652.08 L572.2 651.95 L573.2 651.83 L574.2 651.7 L575.2 651.57 L576.2 651.44 L577.2 651.3 L578.2 651.16 L579.2 651.01 L580.2 650.86 L581.2 650.69 L582.2 650.53 L583.2 650.35 L584.2 650.17 L585.2 649.98 L586.2 649.78 L587.2 649.57 L588.2 649.35 L589.2 649.13 L590.2 648.89 L591.2 648.65 L592.2 648.4 L593.2 648.14 L594.2 647.88 L595.2 647.61 L596.2 647.34 L597.2 647.06 L598.2 646.77 L599.2 646.49 L600.2 646.19 L601.2 645.9 L602.2 645.6 L603.2 645.3 L604.2 644.99 L605.2 644.68 L606.2 644.37 L607.2 644.05 L608.2 643.73 L609.2 643.4 L610.2 643.07 L611.2 642.73 L612.2 642.38 L613.2 642.02 L614.2 641.66 L615.2 641.28 L616.2 640.9 L617.2 640.5 L618.2 640.1 L619.2 639.68 L620.2 639.25 L621.2 638.8 L622.2 638.35 L623.2 637.88 L624.2 637.4 L625.2 636.92 L626.2 636.42 L627.2 635.92 L628.2 635.41 L629.2 634.89 L630.2 634.37 L631.2 633.85 L632.2 633.33 L633.2 632.8 L634.2 632.28 L635.2 631.76 L636.2 631.25 L637.2 630.74 L638.2 630.23 L639.2 629.72 L640.2 629.23 L641.2 628.73 L642.2 628.24 L643.2 627.75 L644.2 627.27 L645.2 626.79 L646.2 626.31 L647.2 625.83 L648.2 625.35 L649.2 624.88 L650.2 624.4 L651.2 623.93 L652.2 623.45 L653.2 622.97 L654.2 622.49 L655.2 622.01 L656.2 621.53 L657.2 621.04 L658.2 620.54 L659.2 620.05 L660.2 619.54 L661.2 619.03 L662.2 618.51 L663.2 617.99 L664.2 617.46 L665.2 616.91 L666.2 616.36 L667.2 615.8 L668.2 615.23 L669.2 614.66 L670.2 614.08 L671.2 613.49 L672.2 612.89 L673.2 612.29 L674.2 611.69 L675.2 611.09 L676.2 610.49 L677.2 609.89 L678.2 609.3 L679.2 608.7 L680.2 608.12 L681.2 607.54 L682.2 606.97 L683.2 606.4 L684.2 605.84 L685.2 605.29 L686.2 604.75 L687.2 604.22 L688.2 603.69 L689.2 603.17 L690.2 602.66 L691.2 602.16 L692.2 601.67 L693.2 601.18 L694.2 600.7 L695.2 600.23 L696.2 599.77 L697.2 599.31 L698.2 598.87 L699.2 598.43 L700.2 597.99 L701.2 597.57 L702.2 597.16 L703.2 596.75 L704.2 596.35 L705.2 595.96 L706.2 595.58 L707.2 595.21 L708.2 594.85 L709.2 594.5 L710.2 594.16 L711.2 593.82 L712.2 593.5 L713.2 593.19 L714.2 592.89 L715.2 592.59 L716.2 592.31 L717.2 592.03 L718.2 591.76 L719.2 591.5 L720.2 591.26 L721.2 591.02 L722.2 590.78 L723.2 590.56 L724.2 590.35 L725.2 590.15 L726.2 589.95 L727.2 589.77 L728.2 589.59 L729.2 589.43 L730.2 589.27 L731.2 589.13 L732.2 588.99 L733.2 588.87 L734.2 588.76 L735.2 588.67 L736.2 588.59 L737.2 588.52 L738.2 588.47 L739.2 588.43 L740.2 588.41 L741.2 588.41 L742.2 588.43 L743.2 588.46 L744.2 588.52 L745.2 588.59 L746.2 588.68 L747.2 588.79 L748.2 588.92 L749.2 589.06 L750.2 589.23 L751.2 589.41 L752.2 589.61 L753.2 589.83 L754.2 590.07 L755.2 590.32 L756.2 590.6 L757.2 590.9 L758.2 591.21 L759.2 591.55 L760.2 591.91 L761.2 592.29 L762.2 592.69 L763.2 593.11 L764.2 593.56 L765.2 594.02 L766.2 594.5 L767.2 595 L768.2 595.51 L769.2 596.04 L770.2 596.58 L771.2 597.14 L772.2 597.7 L773.2 598.27 L774.2 598.84 L775.2 599.42 L776.2 600.01 L777.2 600.6 L778.2 601.19 L779.2 601.78 L780.2 602.38 L781.2 602.98 L782.2 603.58 L783.2 604.18 L784.2 604.78 L785.2 605.39 L786.2 606 L787.2 606.61 L788.2 607.23 L789.2 607.85 L790.2 608.47 L791.2 609.09 L792.2 609.72 L793.2 610.35 L794.2 610.98 L795.2 611.62 L796.2 612.26 L797.2 612.9 L798.2 613.55 L799.2 614.2 L800.2 614.85 L801.2 615.51 L802.2 616.17 L803.2 616.83 L804.2 617.49 L805.2 618.15 L806.2 618.81 L807.2 619.47 L808.2 620.13 L809.2 620.79 L810.2 621.45 L811.2 622.11 L812.2 622.76 L813.2 623.42 L814.2 624.07 L815.2 624.71 L816.2 625.35 L817.2 625.99 L818.2 626.63 L819.2 627.25 L820.2 627.87 L821.2 628.49 L822.2 629.1 L823.2 629.7 L824.2 630.29 L825.2 630.87 L826.2 631.45 L827.2 632.01 L828.2 632.56 L829.2 633.1 L830.2 633.63 L831.2 634.14 L832.2 634.65 L833.2 635.14 L834.2 635.62 L835.2 636.09 L836.2 636.55 L837.2 637 L838.2 637.44 L839.2 637.87 L840.2 638.29 L841.2 638.7 L842.2 639.11 L843.2 639.51 L844.2 639.91 L845.2 640.3 L846.2 640.68 L847.2 641.07 L848.2 641.45 L849.2 641.82 L850.2 642.19 L851.2 642.55 L852.2 642.91 L853.2 643.26 L854.2 643.6 L855.2 643.94 L856.2 644.26 L857.2 644.57 L858.2 644.87 L859.2 645.16 L860.2 645.44 L861.2 645.71 L862.2 645.97 L863.2 646.21 L864.2 646.44 L865.2 646.65 L866.2 646.85 L867.2 647.03 L868.2 647.19 L869.2 647.33 L870.2 647.46 L871.2 647.57 L872.2 647.65 L873.2 647.72 L874.2 647.77 L875.2 647.8 L876.2 647.82 L877.2 647.83 L878.2 647.83 L879.2 647.83 L880.2 647.81 L881.2 647.79 L882.2 647.76 L883.2 647.73 L884.2 647.7 L885.2 647.66 L886.2 647.6 L887.2 647.54 L888.2 647.45 L889.2 647.34 L890.2 647.22 L891.2 647.08 L892.2 646.87 L893.2 646.57 L894.2 646.17 L895.2 645.69 L896.2 645.17 L897.2 644.49 L898.2 643.52 L899.2 642.58 L900.2 642.03 L901.2 641.74 L902.2 641.45 L903.2 641.19 L904.2 640.95 L905.2 640.73 L906.2 640.53 L907.2 640.34 L908.2 640.16 L909.2 639.99 L910.2 639.82 L911.2 639.65 L912.2 639.49 L913.2 639.32 L914.2 639.15 L915.2 638.98 L916.2 638.81 L917.2 638.65 L918.2 638.48 L919.2 638.31 L920.2 638.15 L921.2 637.98 L922.2 637.82 L923.2 637.66 L924.2 637.5 L925.2 637.34 L926.2 637.17 L927.2 637.01 L928.2 636.84 L929.2 636.67 L930.2 636.5 L931.2 636.32 L932.2 636.14 L933.2 635.95 L934.2 635.76 L935.2 635.57 L936.2 635.38 L937.2 635.18 L938.2 634.98 L939.2 634.78 L940.2 634.58 L941.2 634.38 L942.2 634.18 L943.2 633.98 L944.2 633.77 L945.2 633.57 L946.2 633.37 L947.2 633.16 L948.2 632.96 L949.2 632.75 L950.2 632.55 L951.2 632.35 L952.2 632.16 L953.2 631.97 L954.2 631.78 L954.7 631.6" fill="none" stroke="#19cc8c" stroke-width="2.3" stroke-linejoin="round" stroke-linecap="butt"/>
<path d="M310.2 525 L311.2 522.55 L312.2 520.05 L313.2 517.48 L314.2 514.82 L315.2 512.08 L316.2 509.29 L317.2 506.49 L318.2 503.73 L319.2 501.04 L320.2 498.42 L321.2 495.85 L322.2 493.32 L323.2 490.79 L324.2 488.28 L325.2 485.81 L326.2 483.43 L327.2 481.19 L328.2 479.14 L329.2 477.32 L330.2 475.75 L331.2 474.46 L332.2 473.46 L333.2 472.76 L334.2 472.16 L335.2 471.81 L336.2 471.78 L337.2 472.22 L338.2 473.12 L339.2 474.38 L340.2 475.87 L341.2 477.12 L342.2 477.97 L343.2 478.12 L344.2 476.16 L345.2 473.89 L346.2 474.01 L347.2 476.14 L348.2 479.24 L349.2 482.46 L350.2 485.17 L351.2 487.95 L352.2 490.68 L353.2 493.28 L354.2 495.74 L355.2 498.17 L356.2 500.66 L357.2 503.16 L358.2 505.72 L359.2 508.39 L360.2 511.19 L361.2 514.13 L362.2 517.23 L363.2 520.44 L364.2 523.75 L365.2 527.09 L366.2 530.45 L367.2 533.77 L368.2 537.05 L369.2 540.28 L370.2 543.45 L371.2 546.58 L372.2 549.67 L373.2 552.72 L374.2 555.75 L375.2 558.76 L376.2 561.75 L377.2 564.74 L378.2 567.72 L379.2 570.71 L380.2 573.71 L381.2 576.74 L382.2 579.81 L383.2 582.95 L384.2 586.15 L385.2 589.41 L386.2 592.7 L387.2 595.98 L388.2 599.21 L389.2 602.34 L390.2 605.34 L391.2 608.16 L392.2 610.78 L393.2 613.19 L394.2 615.39 L395.2 617.38 L396.2 619.17 L397.2 620.79 L398.2 622.28 L399.2 623.67 L400.2 624.98 L401.2 626.25 L402.2 627.5 L403.2 628.72 L404.2 629.92 L405.2 631.1 L406.2 632.26 L407.2 633.39 L408.2 634.48 L409.2 635.53 L410.2 636.55 L411.2 637.54 L412.2 638.49 L413.2 639.4 L414.2 640.27 L415.2 641.11 L416.2 641.9 L417.2 642.65 L418.2 643.34 L419.2 643.97 L420.2 644.55 L421.2 645.07 L422.2 645.53 L423.2 645.95 L424.2 646.32 L425.2 646.66 L426.2 646.96 L427.2 647.23 L428.2 647.47 L429.2 647.69 L430.2 647.89 L431.2 648.06 L432.2 648.22 L433.2 648.37 L434.2 648.5 L435.2 648.62 L436.2 648.73 L437.2 648.82 L438.2 648.9 L439.2 648.96 L440.2 649.01 L441.2 649.04 L442.2 649.07 L443.2 649.08 L444.2 649.09 L445.2 649.1 L446.2 649.1 L447.2 649.1 L448.2 649.1 L449.2 649.1 L450.2 649.1 L451.2 649.1 L452.2 649.1 L453.2 649.1 L454.2 649.1 L455.2 649.1 L456.2 649.1 L457.2 649.1 L458.2 649.1 L459.2 649.1 L460.2 649.1 L461.2 649.11 L462.2 649.12 L463.2 649.13 L464.2 649.13 L465.2 649.13 L466.2 649.11 L467.2 649.25 L468.2 649.52 L469.2 649.89 L470.2 650.31 L471.2 650.75 L472.2 651.15 L473.2 651.5 L474.2 651.83 L475.2 652.18 L476.2 652.54 L477.2 652.88 L478.2 653.21 L479.2 653.5 L480.2 653.77 L481.2 654 L482.2 654.21 L483.2 654.41 L484.2 654.6 L485.2 654.77 L486.2 654.93 L487.2 655.06 L488.2 655.18 L489.2 655.27 L490.2 655.34 L491.2 655.38 L492.2 655.41 L493.2 655.41 L494.2 655.4 L495.2 655.37 L496.2 655.33 L497.2 655.29 L498.2 655.23 L499.2 655.16 L500.2 655.09 L501.2 655.01 L502.2 654.92 L503.2 654.83 L504.2 654.74 L505.2 654.65 L506.2 654.55 L507.2 654.45 L508.2 654.35 L509.2 654.24 L510.2 654.13 L511.2 654.02 L512.2 653.9 L513.2 653.77 L514.2 653.64 L515.2 653.5 L516.2 653.36 L517.2 653.21 L518.2 653.06 L519.2 652.91 L520.2 652.76 L521.2 652.6 L522.2 652.44 L523.2 652.28 L524.2 652.13 L525.2 651.97 L526.2 651.81 L527.2 651.65 L528.2 651.5 L529.2 651.34 L530.2 651.19 L531.2 651.04 L532.2 650.89 L533.2 650.74 L534.2 650.59 L535.2 650.44 L536.2 650.29 L537.2 650.15 L538.2 650 L539.2 649.86 L540.2 649.71 L541.2 649.57 L542.2 649.42 L543.2 649.28 L544.2 649.13 L545.2 648.99 L546.2 648.84 L547.2 648.69 L548.2 648.53 L549.2 648.38 L550.2 648.22 L551.2 648.06 L552.2 647.9 L553.2 647.73 L554.2 647.56 L555.2 647.38 L556.2 647.2 L557.2 647.02 L558.2 646.83 L559.2 646.64 L560.2 646.45 L561.2 646.25 L562.2 646.04 L563.2 645.83 L564.2 645.62 L565.2 645.4 L566.2 645.18 L567.2 644.96 L568.2 644.73 L569.2 644.5 L570.2 644.26 L571.2 644.02 L572.2 643.77 L573.2 643.52 L574.2 643.27 L575.2 643.01 L576.2 642.74 L577.2 642.48 L578.2 642.2 L579.2 641.93 L580.2 641.64 L581.2 641.35 L582.2 641.06 L583.2 640.76 L584.2 640.45 L585.2 640.14 L586.2 639.82 L587.2 639.49 L588.2 639.15 L589.2 638.8 L590.2 638.45 L591.2 638.09 L592.2 637.71 L593.2 637.33 L594.2 636.94 L595.2 636.53 L596.2 636.12 L597.2 635.69 L598.2 635.25 L599.2 634.8 L600.2 634.33 L601.2 633.86 L602.2 633.37 L603.2 632.87 L604.2 632.36 L605.2 631.83 L606.2 631.29 L607.2 630.75 L608.2 630.18 L609.2 629.61 L610.2 629.03 L611.2 628.43 L612.2 627.82 L613.2 627.2 L614.2 626.57 L615.2 625.93 L616.2 625.27 L617.2 624.61 L618.2 623.93 L619.2 623.24 L620.2 622.54 L621.2 621.83 L622.2 621.11 L623.2 620.39 L624.2 619.65 L625.2 618.91 L626.2 618.16 L627.2 617.4 L628.2 616.64 L629.2 615.88 L630.2 615.12 L631.2 614.35 L632.2 613.58 L633.2 612.82 L634.2 612.05 L635.2 611.29 L636.2 610.53 L637.2 609.78 L638.2 609.04 L639.2 608.3 L640.2 607.56 L641.2 606.84 L642.2 606.12 L643.2 605.41 L644.2 604.7 L645.2 604.01 L646.2 603.32 L647.2 602.64 L648.2 601.96 L649.2 601.28 L650.2 600.61 L651.2 599.95 L652.2 599.28 L653.2 598.61 L654.2 597.94 L655.2 597.27 L656.2 596.59 L657.2 595.91 L658.2 595.21 L659.2 594.51 L660.2 593.8 L661.2 593.07 L662.2 592.32 L663.2 591.57 L664.2 590.8 L665.2 590.01 L666.2 589.2 L667.2 588.38 L668.2 587.54 L669.2 586.69 L670.2 585.82 L671.2 584.94 L672.2 584.05 L673.2 583.14 L674.2 582.22 L675.2 581.29 L676.2 580.35 L677.2 579.41 L678.2 578.46 L679.2 577.51 L680.2 576.55 L681.2 575.6 L682.2 574.65 L683.2 573.7 L684.2 572.76 L685.2 571.82 L686.2 570.89 L687.2 569.96 L688.2 569.04 L689.2 568.13 L690.2 567.23 L691.2 566.34 L692.2 565.46 L693.2 564.59 L694.2 563.72 L695.2 562.87 L696.2 562.03 L697.2 561.2 L698.2 560.37 L699.2 559.57 L700.2 558.77 L701.2 557.98 L702.2 557.21 L703.2 556.46 L704.2 555.71 L705.2 554.99 L706.2 554.27 L707.2 553.58 L708.2 552.9 L709.2 552.23 L710.2 551.59 L711.2 550.96 L712.2 550.35 L713.2 549.76 L714.2 549.19 L715.2 548.64 L716.2 548.11 L717.2 547.61 L718.2 547.12 L719.2 546.65 L720.2 546.21 L721.2 545.79 L722.2 545.39 L723.2 545.01 L724.2 544.65 L725.2 544.32 L726.2 544.01 L727.2 543.73 L728.2 543.46 L729.2 543.22 L730.2 543 L731.2 542.8 L732.2 542.63 L733.2 542.47 L734.2 542.34 L735.2 542.23 L736.2 542.15 L737.2 542.08 L738.2 542.04 L739.2 542.02 L740.2 542.03 L741.2 542.06 L742.2 542.11 L743.2 542.19 L744.2 542.3 L745.2 542.44 L746.2 542.61 L747.2 542.81 L748.2 543.04 L749.2 543.3 L750.2 543.6 L751.2 543.93 L752.2 544.29 L753.2 544.69 L754.2 545.13 L755.2 545.6 L756.2 546.1 L757.2 546.64 L758.2 547.22 L759.2 547.82 L760.2 548.46 L761.2 549.12 L762.2 549.82 L763.2 550.54 L764.2 551.28 L765.2 552.05 L766.2 552.84 L767.2 553.65 L768.2 554.48 L769.2 555.33 L770.2 556.19 L771.2 557.06 L772.2 557.96 L773.2 558.86 L774.2 559.78 L775.2 560.71 L776.2 561.65 L777.2 562.6 L778.2 563.56 L779.2 564.54 L780.2 565.52 L781.2 566.51 L782.2 567.51 L783.2 568.52 L784.2 569.54 L785.2 570.56 L786.2 571.6 L787.2 572.64 L788.2 573.69 L789.2 574.74 L790.2 575.8 L791.2 576.87 L792.2 577.94 L793.2 579.02 L794.2 580.1 L795.2 581.19 L796.2 582.28 L797.2 583.37 L798.2 584.47 L799.2 585.57 L800.2 586.66 L801.2 587.76 L802.2 588.86 L803.2 589.95 L804.2 591.05 L805.2 592.14 L806.2 593.22 L807.2 594.31 L808.2 595.38 L809.2 596.45 L810.2 597.52 L811.2 598.57 L812.2 599.62 L813.2 600.66 L814.2 601.69 L815.2 602.71 L816.2 603.71 L817.2 604.7 L818.2 605.68 L819.2 606.65 L820.2 607.6 L821.2 608.54 L822.2 609.46 L823.2 610.37 L824.2 611.26 L825.2 612.13 L826.2 612.98 L827.2 613.82 L828.2 614.65 L829.2 615.45 L830.2 616.24 L831.2 617.01 L832.2 617.76 L833.2 618.49 L834.2 619.21 L835.2 619.91 L836.2 620.6 L837.2 621.27 L838.2 621.92 L839.2 622.56 L840.2 623.19 L841.2 623.8 L842.2 624.4 L843.2 624.99 L844.2 625.56 L845.2 626.13 L846.2 626.68 L847.2 627.22 L848.2 627.75 L849.2 628.27 L850.2 628.77 L851.2 629.27 L852.2 629.75 L853.2 630.23 L854.2 630.69 L855.2 631.14 L856.2 631.57 L857.2 631.99 L858.2 632.4 L859.2 632.79 L860.2 633.17 L861.2 633.54 L862.2 633.9 L863.2 634.25 L864.2 634.57 L865.2 634.89 L866.2 635.18 L867.2 635.46 L868.2 635.72 L869.2 635.96 L870.2 636.17 L871.2 636.35 L872.2 636.5 L873.2 636.62 L874.2 636.71 L875.2 636.78 L876.2 636.83 L877.2 636.86 L878.2 636.88 L879.2 636.89 L880.2 636.9 L881.2 636.9 L882.2 636.9 L883.2 636.9 L884.2 636.9 L885.2 636.89 L886.2 636.89 L887.2 636.87 L888.2 636.84 L889.2 636.78 L890.2 636.72 L891.2 636.65 L892.2 636.52 L893.2 636.3 L894.2 636.01 L895.2 635.65 L896.2 635.25 L897.2 634.57 L898.2 633.42 L899.2 632.24 L900.2 631.5 L901.2 631.1 L902.2 630.73 L903.2 630.39 L904.2 630.08 L905.2 629.78 L906.2 629.51 L907.2 629.24 L908.2 628.97 L909.2 628.7 L910.2 628.44 L911.2 628.16 L912.2 627.89 L913.2 627.6 L914.2 627.31 L915.2 627.02 L916.2 626.72 L917.2 626.42 L918.2 626.13 L919.2 625.83 L920.2 625.53 L921.2 625.23 L922.2 624.93 L923.2 624.63 L924.2 624.33 L925.2 624.03 L926.2 623.73 L927.2 623.42 L928.2 623.12 L929.2 622.82 L930.2 622.52 L931.2 622.22 L932.2 621.91 L933.2 621.61 L934.2 621.31 L935.2 621.01 L936.2 620.71 L937.2 620.41 L938.2 620.11 L939.2 619.8 L940.2 619.5 L941.2 619.21 L942.2 618.91 L943.2 618.61 L944.2 618.31 L945.2 618.02 L946.2 617.73 L947.2 617.44 L948.2 617.15 L949.2 616.86 L950.2 616.59 L951.2 616.31 L952.2 616.05 L953.2 615.79 L954.2 615.54 L954.7 615.3" fill="none" stroke="#d88af0" stroke-width="2.2" stroke-linejoin="round" stroke-linecap="butt"/>
<path d="M310.2 501 L311.2 496.82 L312.2 492.57 L313.2 488.17 L314.2 483.59 L315.2 478.8 L316.2 473.81 L317.2 468.68 L318.2 463.49 L319.2 458.33 L320.2 453.29 L321.2 448.47 L322.2 443.94 L323.2 439.74 L324.2 435.9 L325.2 432.41 L326.2 429.28 L327.2 426.46 L328.2 423.92 L329.2 421.65 L330.2 419.61 L331.2 417.8 L332.2 416.24 L333.2 414.94 L334.2 413.73 L335.2 412.81 L336.2 412.11 L337.2 411.67 L338.2 411.89 L339.2 413.04 L340.2 414.96 L341.2 416.94 L342.2 418.38 L343.2 418.63 L344.2 414.42 L345.2 409.53 L346.2 409.45 L347.2 412.08 L348.2 415.3 L349.2 418.86 L350.2 422.64 L351.2 426.41 L352.2 430.06 L353.2 433.73 L354.2 437.5 L355.2 441.38 L356.2 445.3 L357.2 449.28 L358.2 453.32 L359.2 457.41 L360.2 461.52 L361.2 465.63 L362.2 469.72 L363.2 473.78 L364.2 477.81 L365.2 481.81 L366.2 485.79 L367.2 489.77 L368.2 493.79 L369.2 497.88 L370.2 502.05 L371.2 506.34 L372.2 510.74 L373.2 515.26 L374.2 519.89 L375.2 524.62 L376.2 529.42 L377.2 534.29 L378.2 539.19 L379.2 544.13 L380.2 549.07 L381.2 554 L382.2 558.9 L383.2 563.76 L384.2 568.56 L385.2 573.3 L386.2 577.96 L387.2 582.54 L388.2 587.04 L389.2 591.45 L390.2 595.75 L391.2 599.92 L392.2 603.94 L393.2 607.8 L394.2 611.48 L395.2 614.99 L396.2 618.33 L397.2 621.52 L398.2 624.57 L399.2 627.49 L400.2 630.29 L401.2 632.97 L402.2 635.52 L403.2 637.93 L404.2 640.2 L405.2 642.31 L406.2 644.26 L407.2 646.07 L408.2 647.72 L409.2 649.25 L410.2 650.65 L411.2 651.95 L412.2 653.16 L413.2 654.29 L414.2 655.34 L415.2 656.32 L416.2 657.24 L417.2 658.08 L418.2 658.86 L419.2 659.57 L420.2 660.22 L421.2 660.8 L422.2 661.33 L423.2 661.81 L424.2 662.24 L425.2 662.64 L426.2 663.01 L427.2 663.35 L428.2 663.67 L429.2 663.98 L430.2 664.26 L431.2 664.54 L432.2 664.8 L433.2 665.06 L434.2 665.3 L435.2 665.52 L436.2 665.73 L437.2 665.92 L438.2 666.1 L439.2 666.25 L440.2 666.38 L441.2 666.5 L442.2 666.59 L443.2 666.67 L444.2 666.74 L445.2 666.8 L446.2 666.85 L447.2 666.89 L448.2 666.93 L449.2 666.96 L450.2 666.99 L451.2 667.02 L452.2 667.04 L453.2 667.07 L454.2 667.09 L455.2 667.11 L456.2 667.14 L457.2 667.16 L458.2 667.19 L459.2 667.22 L460.2 667.26 L461.2 667.29 L462.2 667.33 L463.2 667.38 L464.2 667.43 L465.2 667.49 L466.2 667.54 L467.2 667.62 L468.2 667.7 L469.2 667.92 L470.2 668.36 L471.2 668.94 L472.2 669.61 L473.2 670.29 L474.2 670.92 L475.2 671.44 L476.2 671.76 L477.2 671.89 L478.2 672.02 L479.2 672.16 L480.2 672.3 L481.2 672.42 L482.2 672.52 L483.2 672.62 L484.2 672.7 L485.2 672.77 L486.2 672.84 L487.2 672.88 L488.2 672.92 L489.2 672.95 L490.2 672.97 L491.2 672.98 L492.2 672.99 L493.2 673 L494.2 673 L495.2 673 L496.2 673 L497.2 673 L498.2 673 L499.2 673 L500.2 673 L501.2 672.99 L502.2 672.99 L503.2 672.98 L504.2 672.97 L505.2 672.96 L506.2 672.94 L507.2 672.92 L508.2 672.89 L509.2 672.86 L510.2 672.82 L511.2 672.78 L512.2 672.73 L513.2 672.68 L514.2 672.63 L515.2 672.57 L516.2 672.51 L517.2 672.45 L518.2 672.38 L519.2 672.31 L520.2 672.23 L521.2 672.16 L522.2 672.08 L523.2 671.99 L524.2 671.9 L525.2 671.81 L526.2 671.72 L527.2 671.62 L528.2 671.51 L529.2 671.4 L530.2 671.29 L531.2 671.17 L532.2 671.04 L533.2 670.91 L534.2 670.77 L535.2 670.62 L536.2 670.46 L537.2 670.3 L538.2 670.13 L539.2 669.95 L540.2 669.76 L541.2 669.56 L542.2 669.36 L543.2 669.15 L544.2 668.92 L545.2 668.7 L546.2 668.46 L547.2 668.22 L548.2 667.96 L549.2 667.7 L550.2 667.44 L551.2 667.16 L552.2 666.88 L553.2 666.59 L554.2 666.3 L555.2 666 L556.2 665.69 L557.2 665.37 L558.2 665.05 L559.2 664.72 L560.2 664.38 L561.2 664.04 L562.2 663.69 L563.2 663.34 L564.2 662.98 L565.2 662.61 L566.2 662.24 L567.2 661.87 L568.2 661.49 L569.2 661.1 L570.2 660.71 L571.2 660.32 L572.2 659.92 L573.2 659.51 L574.2 659.09 L575.2 658.67 L576.2 658.24 L577.2 657.81 L578.2 657.37 L579.2 656.92 L580.2 656.46 L581.2 656 L582.2 655.53 L583.2 655.05 L584.2 654.56 L585.2 654.06 L586.2 653.55 L587.2 653.04 L588.2 652.52 L589.2 651.99 L590.2 651.45 L591.2 650.9 L592.2 650.34 L593.2 649.77 L594.2 649.2 L595.2 648.61 L596.2 648.02 L597.2 647.42 L598.2 646.81 L599.2 646.19 L600.2 645.57 L601.2 644.93 L602.2 644.29 L603.2 643.64 L604.2 642.97 L605.2 642.3 L606.2 641.62 L607.2 640.92 L608.2 640.21 L609.2 639.49 L610.2 638.76 L611.2 638.01 L612.2 637.25 L613.2 636.47 L614.2 635.68 L615.2 634.86 L616.2 634.04 L617.2 633.19 L618.2 632.33 L619.2 631.45 L620.2 630.55 L621.2 629.63 L622.2 628.7 L623.2 627.75 L624.2 626.78 L625.2 625.8 L626.2 624.8 L627.2 623.78 L628.2 622.75 L629.2 621.71 L630.2 620.65 L631.2 619.57 L632.2 618.49 L633.2 617.39 L634.2 616.28 L635.2 615.15 L636.2 614.02 L637.2 612.88 L638.2 611.73 L639.2 610.56 L640.2 609.4 L641.2 608.22 L642.2 607.04 L643.2 605.85 L644.2 604.66 L645.2 603.46 L646.2 602.26 L647.2 601.06 L648.2 599.85 L649.2 598.65 L650.2 597.45 L651.2 596.24 L652.2 595.04 L653.2 593.83 L654.2 592.63 L655.2 591.43 L656.2 590.23 L657.2 589.03 L658.2 587.84 L659.2 586.64 L660.2 585.45 L661.2 584.26 L662.2 583.06 L663.2 581.86 L664.2 580.66 L665.2 579.45 L666.2 578.24 L667.2 577.02 L668.2 575.79 L669.2 574.55 L670.2 573.3 L671.2 572.04 L672.2 570.76 L673.2 569.47 L674.2 568.17 L675.2 566.86 L676.2 565.53 L677.2 564.19 L678.2 562.84 L679.2 561.48 L680.2 560.12 L681.2 558.74 L682.2 557.36 L683.2 555.98 L684.2 554.59 L685.2 553.2 L686.2 551.81 L687.2 550.42 L688.2 549.03 L689.2 547.64 L690.2 546.25 L691.2 544.87 L692.2 543.5 L693.2 542.14 L694.2 540.78 L695.2 539.43 L696.2 538.09 L697.2 536.76 L698.2 535.45 L699.2 534.15 L700.2 532.87 L701.2 531.6 L702.2 530.35 L703.2 529.12 L704.2 527.91 L705.2 526.72 L706.2 525.55 L707.2 524.4 L708.2 523.28 L709.2 522.18 L710.2 521.11 L711.2 520.06 L712.2 519.04 L713.2 518.04 L714.2 517.08 L715.2 516.14 L716.2 515.23 L717.2 514.36 L718.2 513.51 L719.2 512.7 L720.2 511.92 L721.2 511.17 L722.2 510.46 L723.2 509.79 L724.2 509.15 L725.2 508.55 L726.2 507.99 L727.2 507.47 L728.2 506.99 L729.2 506.55 L730.2 506.15 L731.2 505.79 L732.2 505.46 L733.2 505.18 L734.2 504.93 L735.2 504.71 L736.2 504.53 L737.2 504.39 L738.2 504.28 L739.2 504.21 L740.2 504.17 L741.2 504.17 L742.2 504.2 L743.2 504.27 L744.2 504.37 L745.2 504.51 L746.2 504.69 L747.2 504.91 L748.2 505.17 L749.2 505.47 L750.2 505.81 L751.2 506.19 L752.2 506.63 L753.2 507.1 L754.2 507.62 L755.2 508.19 L756.2 508.81 L757.2 509.47 L758.2 510.19 L759.2 510.94 L760.2 511.75 L761.2 512.59 L762.2 513.48 L763.2 514.42 L764.2 515.39 L765.2 516.4 L766.2 517.45 L767.2 518.53 L768.2 519.65 L769.2 520.8 L770.2 521.98 L771.2 523.2 L772.2 524.45 L773.2 525.73 L774.2 527.04 L775.2 528.38 L776.2 529.76 L777.2 531.16 L778.2 532.6 L779.2 534.07 L780.2 535.57 L781.2 537.1 L782.2 538.66 L783.2 540.24 L784.2 541.85 L785.2 543.49 L786.2 545.14 L787.2 546.82 L788.2 548.51 L789.2 550.21 L790.2 551.92 L791.2 553.64 L792.2 555.36 L793.2 557.09 L794.2 558.82 L795.2 560.54 L796.2 562.26 L797.2 563.98 L798.2 565.69 L799.2 567.39 L800.2 569.08 L801.2 570.77 L802.2 572.45 L803.2 574.13 L804.2 575.79 L805.2 577.45 L806.2 579.1 L807.2 580.74 L808.2 582.38 L809.2 584 L810.2 585.62 L811.2 587.23 L812.2 588.83 L813.2 590.41 L814.2 591.99 L815.2 593.55 L816.2 595.09 L817.2 596.62 L818.2 598.14 L819.2 599.63 L820.2 601.11 L821.2 602.56 L822.2 604 L823.2 605.42 L824.2 606.81 L825.2 608.19 L826.2 609.54 L827.2 610.87 L828.2 612.19 L829.2 613.48 L830.2 614.75 L831.2 616 L832.2 617.23 L833.2 618.44 L834.2 619.62 L835.2 620.78 L836.2 621.92 L837.2 623.04 L838.2 624.13 L839.2 625.2 L840.2 626.25 L841.2 627.27 L842.2 628.26 L843.2 629.23 L844.2 630.18 L845.2 631.09 L846.2 631.98 L847.2 632.85 L848.2 633.68 L849.2 634.49 L850.2 635.27 L851.2 636.02 L852.2 636.74 L853.2 637.43 L854.2 638.1 L855.2 638.73 L856.2 639.33 L857.2 639.9 L858.2 640.44 L859.2 640.95 L860.2 641.43 L861.2 641.91 L862.2 642.35 L863.2 642.77 L864.2 643.15 L865.2 643.51 L866.2 643.84 L867.2 644.14 L868.2 644.41 L869.2 644.66 L870.2 644.87 L871.2 645.05 L872.2 645.2 L873.2 645.31 L874.2 645.4 L875.2 645.45 L876.2 645.49 L877.2 645.51 L878.2 645.51 L879.2 645.51 L880.2 645.5 L881.2 645.47 L882.2 645.44 L883.2 645.4 L884.2 645.36 L885.2 645.31 L886.2 645.24 L887.2 645.17 L888.2 645.06 L889.2 644.92 L890.2 644.77 L891.2 644.61 L892.2 644.36 L893.2 643.99 L894.2 643.5 L895.2 642.91 L896.2 642.29 L897.2 641.59 L898.2 640.7 L899.2 639.8 L900.2 639.07 L901.2 638.49 L902.2 637.95 L903.2 637.44 L904.2 636.94 L905.2 636.47 L906.2 636 L907.2 635.56 L908.2 635.12 L909.2 634.69 L910.2 634.27 L911.2 633.87 L912.2 633.48 L913.2 633.09 L914.2 632.7 L915.2 632.31 L916.2 631.92 L917.2 631.52 L918.2 631.11 L919.2 630.68 L920.2 630.24 L921.2 629.78 L922.2 629.31 L923.2 628.82 L924.2 628.32 L925.2 627.82 L926.2 627.3 L927.2 626.79 L928.2 626.27 L929.2 625.75 L930.2 625.24 L931.2 624.73 L932.2 624.23 L933.2 623.72 L934.2 623.23 L935.2 622.73 L936.2 622.24 L937.2 621.75 L938.2 621.25 L939.2 620.75 L940.2 620.25 L941.2 619.75 L942.2 619.24 L943.2 618.72 L944.2 618.2 L945.2 617.67 L946.2 617.13 L947.2 616.59 L948.2 616.05 L949.2 615.51 L950.2 614.97 L951.2 614.43 L952.2 613.91 L953.2 613.4 L954.2 612.9 L954.7 612.4" fill="none" stroke="#ffbf00" stroke-width="2.3" stroke-linejoin="round" stroke-linecap="butt"/>
<path d="M310.2 478.2 L311.2 472.62 L312.2 466.99 L313.2 461.25 L314.2 455.38 L315.2 449.35 L316.2 443.19 L317.2 436.92 L318.2 430.62 L319.2 424.35 L320.2 418.2 L321.2 412.25 L322.2 406.56 L323.2 401.2 L324.2 396.2 L325.2 391.58 L326.2 387.35 L327.2 383.48 L328.2 379.97 L329.2 376.8 L330.2 373.98 L331.2 371.5 L332.2 369.42 L333.2 367.74 L334.2 366.15 L335.2 365.14 L336.2 364.55 L337.2 364.24 L338.2 364.42 L339.2 365.34 L340.2 366.87 L341.2 368.43 L342.2 369.57 L343.2 369.77 L344.2 366.54 L345.2 362.78 L346.2 362.72 L347.2 364.8 L348.2 367.6 L349.2 371.76 L350.2 376.76 L351.2 381.81 L352.2 386.6 L353.2 391.41 L354.2 396.22 L355.2 400.97 L356.2 405.72 L357.2 410.42 L358.2 415.1 L359.2 419.77 L360.2 424.46 L361.2 429.2 L362.2 434.01 L363.2 438.89 L364.2 443.82 L365.2 448.79 L366.2 453.78 L367.2 458.77 L368.2 463.75 L369.2 468.72 L370.2 473.69 L371.2 478.65 L372.2 483.63 L373.2 488.64 L374.2 493.7 L375.2 498.81 L376.2 504.01 L377.2 509.31 L378.2 514.73 L379.2 520.28 L380.2 525.96 L381.2 531.76 L382.2 537.64 L383.2 543.54 L384.2 549.39 L385.2 555.12 L386.2 560.71 L387.2 566.14 L388.2 571.42 L389.2 576.58 L390.2 581.64 L391.2 586.62 L392.2 591.49 L393.2 596.24 L394.2 600.82 L395.2 605.21 L396.2 609.37 L397.2 613.31 L398.2 617.03 L399.2 620.55 L400.2 623.91 L401.2 627.12 L402.2 630.2 L403.2 633.17 L404.2 636.05 L405.2 638.83 L406.2 641.52 L407.2 644.09 L408.2 646.53 L409.2 648.83 L410.2 650.97 L411.2 652.96 L412.2 654.79 L413.2 656.47 L414.2 658.03 L415.2 659.46 L416.2 660.78 L417.2 662.01 L418.2 663.15 L419.2 664.21 L420.2 665.2 L421.2 666.12 L422.2 666.97 L423.2 667.77 L424.2 668.5 L425.2 669.18 L426.2 669.8 L427.2 670.36 L428.2 670.87 L429.2 671.32 L430.2 671.72 L431.2 672.07 L432.2 672.38 L433.2 672.67 L434.2 672.92 L435.2 673.14 L436.2 673.34 L437.2 673.52 L438.2 673.68 L439.2 673.81 L440.2 673.92 L441.2 674 L442.2 674.08 L443.2 674.13 L444.2 674.18 L445.2 674.22 L446.2 674.25 L447.2 674.27 L448.2 674.29 L449.2 674.31 L450.2 674.33 L451.2 674.34 L452.2 674.36 L453.2 674.37 L454.2 674.38 L455.2 674.39 L456.2 674.41 L457.2 674.42 L458.2 674.44 L459.2 674.46 L460.2 674.48 L461.2 674.5 L462.2 674.53 L463.2 674.56 L464.2 674.6 L465.2 674.63 L466.2 674.66 L467.2 674.71 L468.2 674.88 L469.2 675.21 L470.2 675.69 L471.2 676.26 L472.2 676.89 L473.2 677.55 L474.2 678.19 L475.2 678.79 L476.2 679.31 L477.2 679.76 L478.2 680.25 L479.2 680.75 L480.2 681.24 L481.2 681.68 L482.2 682.07 L483.2 682.4 L484.2 682.71 L485.2 682.95 L486.2 683.14 L487.2 683.28 L488.2 683.37 L489.2 683.43 L490.2 683.47 L491.2 683.48 L492.2 683.49 L493.2 683.5 L494.2 683.5 L495.2 683.5 L496.2 683.5 L497.2 683.5 L498.2 683.5 L499.2 683.5 L500.2 683.49 L501.2 683.47 L502.2 683.44 L503.2 683.4 L504.2 683.35 L505.2 683.27 L506.2 683.18 L507.2 683.06 L508.2 682.93 L509.2 682.78 L510.2 682.61 L511.2 682.44 L512.2 682.25 L513.2 682.06 L514.2 681.86 L515.2 681.66 L516.2 681.46 L517.2 681.26 L518.2 681.06 L519.2 680.87 L520.2 680.67 L521.2 680.48 L522.2 680.29 L523.2 680.1 L524.2 679.91 L525.2 679.71 L526.2 679.52 L527.2 679.32 L528.2 679.12 L529.2 678.92 L530.2 678.71 L531.2 678.5 L532.2 678.28 L533.2 678.06 L534.2 677.84 L535.2 677.61 L536.2 677.37 L537.2 677.12 L538.2 676.86 L539.2 676.6 L540.2 676.33 L541.2 676.05 L542.2 675.76 L543.2 675.46 L544.2 675.15 L545.2 674.83 L546.2 674.51 L547.2 674.18 L548.2 673.83 L549.2 673.48 L550.2 673.13 L551.2 672.76 L552.2 672.39 L553.2 672.01 L554.2 671.62 L555.2 671.22 L556.2 670.82 L557.2 670.41 L558.2 669.99 L559.2 669.57 L560.2 669.14 L561.2 668.7 L562.2 668.26 L563.2 667.81 L564.2 667.35 L565.2 666.89 L566.2 666.43 L567.2 665.96 L568.2 665.48 L569.2 665 L570.2 664.52 L571.2 664.03 L572.2 663.54 L573.2 663.05 L574.2 662.55 L575.2 662.05 L576.2 661.54 L577.2 661.03 L578.2 660.52 L579.2 660 L580.2 659.47 L581.2 658.94 L582.2 658.41 L583.2 657.86 L584.2 657.31 L585.2 656.75 L586.2 656.17 L587.2 655.59 L588.2 655 L589.2 654.39 L590.2 653.78 L591.2 653.14 L592.2 652.5 L593.2 651.84 L594.2 651.16 L595.2 650.46 L596.2 649.75 L597.2 649.02 L598.2 648.27 L599.2 647.49 L600.2 646.7 L601.2 645.89 L602.2 645.06 L603.2 644.2 L604.2 643.33 L605.2 642.44 L606.2 641.53 L607.2 640.61 L608.2 639.67 L609.2 638.72 L610.2 637.76 L611.2 636.79 L612.2 635.8 L613.2 634.81 L614.2 633.81 L615.2 632.8 L616.2 631.79 L617.2 630.76 L618.2 629.73 L619.2 628.69 L620.2 627.63 L621.2 626.56 L622.2 625.48 L623.2 624.38 L624.2 623.26 L625.2 622.13 L626.2 620.98 L627.2 619.8 L628.2 618.61 L629.2 617.4 L630.2 616.18 L631.2 614.93 L632.2 613.66 L633.2 612.38 L634.2 611.09 L635.2 609.77 L636.2 608.45 L637.2 607.11 L638.2 605.76 L639.2 604.4 L640.2 603.02 L641.2 601.64 L642.2 600.25 L643.2 598.85 L644.2 597.44 L645.2 596.02 L646.2 594.59 L647.2 593.16 L648.2 591.71 L649.2 590.26 L650.2 588.81 L651.2 587.34 L652.2 585.87 L653.2 584.39 L654.2 582.91 L655.2 581.42 L656.2 579.92 L657.2 578.42 L658.2 576.92 L659.2 575.41 L660.2 573.9 L661.2 572.38 L662.2 570.86 L663.2 569.33 L664.2 567.8 L665.2 566.26 L666.2 564.71 L667.2 563.16 L668.2 561.6 L669.2 560.04 L670.2 558.47 L671.2 556.89 L672.2 555.3 L673.2 553.7 L674.2 552.1 L675.2 550.48 L676.2 548.86 L677.2 547.23 L678.2 545.59 L679.2 543.95 L680.2 542.3 L681.2 540.64 L682.2 538.97 L683.2 537.31 L684.2 535.64 L685.2 533.96 L686.2 532.29 L687.2 530.62 L688.2 528.95 L689.2 527.29 L690.2 525.63 L691.2 523.98 L692.2 522.34 L693.2 520.72 L694.2 519.1 L695.2 517.5 L696.2 515.91 L697.2 514.34 L698.2 512.78 L699.2 511.24 L700.2 509.71 L701.2 508.2 L702.2 506.71 L703.2 505.23 L704.2 503.77 L705.2 502.33 L706.2 500.91 L707.2 499.5 L708.2 498.12 L709.2 496.76 L710.2 495.42 L711.2 494.1 L712.2 492.82 L713.2 491.56 L714.2 490.33 L715.2 489.14 L716.2 487.98 L717.2 486.86 L718.2 485.78 L719.2 484.73 L720.2 483.73 L721.2 482.77 L722.2 481.85 L723.2 480.97 L724.2 480.14 L725.2 479.34 L726.2 478.6 L727.2 477.89 L728.2 477.23 L729.2 476.61 L730.2 476.03 L731.2 475.5 L732.2 475 L733.2 474.55 L734.2 474.14 L735.2 473.78 L736.2 473.46 L737.2 473.18 L738.2 472.95 L739.2 472.77 L740.2 472.63 L741.2 472.55 L742.2 472.51 L743.2 472.53 L744.2 472.6 L745.2 472.72 L746.2 472.89 L747.2 473.11 L748.2 473.38 L749.2 473.7 L750.2 474.08 L751.2 474.51 L752.2 474.98 L753.2 475.52 L754.2 476.1 L755.2 476.75 L756.2 477.45 L757.2 478.21 L758.2 479.04 L759.2 479.93 L760.2 480.89 L761.2 481.91 L762.2 483 L763.2 484.16 L764.2 485.38 L765.2 486.67 L766.2 488.01 L767.2 489.42 L768.2 490.88 L769.2 492.39 L770.2 493.95 L771.2 495.55 L772.2 497.19 L773.2 498.87 L774.2 500.57 L775.2 502.31 L776.2 504.06 L777.2 505.84 L778.2 507.64 L779.2 509.45 L780.2 511.28 L781.2 513.12 L782.2 514.97 L783.2 516.84 L784.2 518.71 L785.2 520.6 L786.2 522.49 L787.2 524.39 L788.2 526.31 L789.2 528.24 L790.2 530.17 L791.2 532.13 L792.2 534.09 L793.2 536.07 L794.2 538.07 L795.2 540.08 L796.2 542.11 L797.2 544.16 L798.2 546.22 L799.2 548.3 L800.2 550.39 L801.2 552.5 L802.2 554.62 L803.2 556.75 L804.2 558.89 L805.2 561.04 L806.2 563.19 L807.2 565.34 L808.2 567.49 L809.2 569.63 L810.2 571.75 L811.2 573.86 L812.2 575.96 L813.2 578.03 L814.2 580.07 L815.2 582.09 L816.2 584.08 L817.2 586.04 L818.2 587.97 L819.2 589.87 L820.2 591.73 L821.2 593.57 L822.2 595.38 L823.2 597.16 L824.2 598.91 L825.2 600.64 L826.2 602.34 L827.2 604.01 L828.2 605.67 L829.2 607.29 L830.2 608.89 L831.2 610.47 L832.2 612.02 L833.2 613.55 L834.2 615.05 L835.2 616.52 L836.2 617.96 L837.2 619.38 L838.2 620.77 L839.2 622.12 L840.2 623.45 L841.2 624.75 L842.2 626.01 L843.2 627.24 L844.2 628.44 L845.2 629.6 L846.2 630.73 L847.2 631.83 L848.2 632.89 L849.2 633.91 L850.2 634.9 L851.2 635.85 L852.2 636.76 L853.2 637.64 L854.2 638.48 L855.2 639.28 L856.2 640.05 L857.2 640.78 L858.2 641.47 L859.2 642.12 L860.2 642.75 L861.2 643.37 L862.2 643.96 L863.2 644.51 L864.2 645.02 L865.2 645.5 L866.2 645.95 L867.2 646.36 L868.2 646.75 L869.2 647.11 L870.2 647.45 L871.2 647.76 L872.2 648.05 L873.2 648.32 L874.2 648.58 L875.2 648.82 L876.2 649.04 L877.2 649.25 L878.2 649.45 L879.2 649.64 L880.2 649.81 L881.2 649.93 L882.2 650.02 L883.2 650.09 L884.2 650.11 L885.2 650.1 L886.2 650.05 L887.2 649.96 L888.2 649.82 L889.2 649.64 L890.2 649.44 L891.2 649.18 L892.2 648.88 L893.2 648.54 L894.2 648.17 L895.2 647.82 L896.2 647.2 L897.2 645.88 L898.2 644.34 L899.2 642.92 L900.2 641.95 L901.2 641.34 L902.2 640.76 L903.2 640.23 L904.2 639.73 L905.2 639.25 L906.2 638.78 L907.2 638.32 L908.2 637.85 L909.2 637.38 L910.2 636.9 L911.2 636.4 L912.2 635.88 L913.2 635.35 L914.2 634.79 L915.2 634.23 L916.2 633.65 L917.2 633.06 L918.2 632.46 L919.2 631.85 L920.2 631.23 L921.2 630.6 L922.2 629.95 L923.2 629.3 L924.2 628.63 L925.2 627.95 L926.2 627.26 L927.2 626.55 L928.2 625.84 L929.2 625.13 L930.2 624.42 L931.2 623.71 L932.2 623.01 L933.2 622.32 L934.2 621.65 L935.2 620.99 L936.2 620.35 L937.2 619.72 L938.2 619.1 L939.2 618.5 L940.2 617.9 L941.2 617.3 L942.2 616.71 L943.2 616.12 L944.2 615.52 L945.2 614.92 L946.2 614.31 L947.2 613.69 L948.2 613.08 L949.2 612.46 L950.2 611.84 L951.2 611.23 L952.2 610.63 L953.2 610.04 L954.2 609.47 L954.7 608.9" fill="none" stroke="#00ffff" stroke-width="3.1" stroke-linejoin="round" stroke-linecap="butt"/>
<path d="M310.2 379.8 L311.2 373.66 L312.2 367.48 L313.2 361.25 L314.2 354.94 L315.2 348.59 L316.2 342.22 L317.2 335.89 L318.2 329.69 L319.2 323.68 L320.2 317.88 L321.2 312.3 L322.2 306.87 L323.2 301.57 L324.2 296.36 L325.2 291.3 L326.2 286.47 L327.2 282 L328.2 278.03 L329.2 274.67 L330.2 271.96 L331.2 269.91 L332.2 268.49 L333.2 267.62 L334.2 267.01 L335.2 266.82 L336.2 267.05 L337.2 267.66 L338.2 268.53 L339.2 269.87 L340.2 272.61 L341.2 275.75 L342.2 278.17 L343.2 278.63 L344.2 271.69 L345.2 263.64 L346.2 263.03 L347.2 265.25 L348.2 268.56 L349.2 272.95 L350.2 278.6 L351.2 284.45 L352.2 289.73 L353.2 294.94 L354.2 300.6 L355.2 306.78 L356.2 312.89 L357.2 319.11 L358.2 325.35 L359.2 331.55 L360.2 337.69 L361.2 343.77 L362.2 349.82 L363.2 355.89 L364.2 361.97 L365.2 368.06 L366.2 374.11 L367.2 380.09 L368.2 385.99 L369.2 391.79 L370.2 397.52 L371.2 403.22 L372.2 408.92 L373.2 414.68 L374.2 420.53 L375.2 426.5 L376.2 432.61 L377.2 438.86 L378.2 445.23 L379.2 451.69 L380.2 458.2 L381.2 464.71 L382.2 471.2 L383.2 477.67 L384.2 484.09 L385.2 490.48 L386.2 496.84 L387.2 503.15 L388.2 509.41 L389.2 515.6 L390.2 521.68 L391.2 527.65 L392.2 533.49 L393.2 539.19 L394.2 544.78 L395.2 550.25 L396.2 555.6 L397.2 560.81 L398.2 565.84 L399.2 570.65 L400.2 575.18 L401.2 579.41 L402.2 583.33 L403.2 586.96 L404.2 590.32 L405.2 593.46 L406.2 596.41 L407.2 599.19 L408.2 601.82 L409.2 604.31 L410.2 606.66 L411.2 608.86 L412.2 610.92 L413.2 612.84 L414.2 614.62 L415.2 616.28 L416.2 617.82 L417.2 619.26 L418.2 620.59 L419.2 621.83 L420.2 622.99 L421.2 624.07 L422.2 625.06 L423.2 625.98 L424.2 626.82 L425.2 627.57 L426.2 628.24 L427.2 628.83 L428.2 629.35 L429.2 629.79 L430.2 630.18 L431.2 630.51 L432.2 630.79 L433.2 631.04 L434.2 631.24 L435.2 631.41 L436.2 631.54 L437.2 631.65 L438.2 631.75 L439.2 631.82 L440.2 631.89 L441.2 631.94 L442.2 631.99 L443.2 632.04 L444.2 632.08 L445.2 632.12 L446.2 632.15 L447.2 632.19 L448.2 632.22 L449.2 632.25 L450.2 632.28 L451.2 632.3 L452.2 632.32 L453.2 632.34 L454.2 632.36 L455.2 632.38 L456.2 632.4 L457.2 632.42 L458.2 632.44 L459.2 632.46 L460.2 632.48 L461.2 632.51 L462.2 632.54 L463.2 632.57 L464.2 632.61 L465.2 632.65 L466.2 632.68 L467.2 632.74 L468.2 632.8 L469.2 633.13 L470.2 633.87 L471.2 634.86 L472.2 635.92 L473.2 636.9 L474.2 637.62 L475.2 638.25 L476.2 638.86 L477.2 639.42 L478.2 639.94 L479.2 640.38 L480.2 640.75 L481.2 641.05 L482.2 641.29 L483.2 641.49 L484.2 641.68 L485.2 641.84 L486.2 641.97 L487.2 642.07 L488.2 642.14 L489.2 642.2 L490.2 642.23 L491.2 642.26 L492.2 642.27 L493.2 642.27 L494.2 642.26 L495.2 642.25 L496.2 642.24 L497.2 642.23 L498.2 642.21 L499.2 642.18 L500.2 642.15 L501.2 642.1 L502.2 642.04 L503.2 641.96 L504.2 641.85 L505.2 641.71 L506.2 641.55 L507.2 641.36 L508.2 641.14 L509.2 640.9 L510.2 640.64 L511.2 640.36 L512.2 640.07 L513.2 639.77 L514.2 639.47 L515.2 639.17 L516.2 638.86 L517.2 638.56 L518.2 638.27 L519.2 637.98 L520.2 637.69 L521.2 637.41 L522.2 637.13 L523.2 636.86 L524.2 636.59 L525.2 636.31 L526.2 636.04 L527.2 635.77 L528.2 635.5 L529.2 635.22 L530.2 634.95 L531.2 634.67 L532.2 634.39 L533.2 634.11 L534.2 633.82 L535.2 633.53 L536.2 633.24 L537.2 632.94 L538.2 632.64 L539.2 632.33 L540.2 632.01 L541.2 631.69 L542.2 631.36 L543.2 631.03 L544.2 630.69 L545.2 630.35 L546.2 630 L547.2 629.64 L548.2 629.29 L549.2 628.92 L550.2 628.55 L551.2 628.18 L552.2 627.8 L553.2 627.42 L554.2 627.04 L555.2 626.64 L556.2 626.25 L557.2 625.85 L558.2 625.45 L559.2 625.04 L560.2 624.62 L561.2 624.2 L562.2 623.77 L563.2 623.34 L564.2 622.9 L565.2 622.45 L566.2 621.99 L567.2 621.53 L568.2 621.05 L569.2 620.57 L570.2 620.07 L571.2 619.56 L572.2 619.05 L573.2 618.52 L574.2 617.98 L575.2 617.42 L576.2 616.85 L577.2 616.27 L578.2 615.68 L579.2 615.07 L580.2 614.44 L581.2 613.8 L582.2 613.15 L583.2 612.48 L584.2 611.79 L585.2 611.09 L586.2 610.36 L587.2 609.63 L588.2 608.87 L589.2 608.09 L590.2 607.3 L591.2 606.49 L592.2 605.66 L593.2 604.81 L594.2 603.95 L595.2 603.06 L596.2 602.16 L597.2 601.23 L598.2 600.29 L599.2 599.33 L600.2 598.34 L601.2 597.34 L602.2 596.31 L603.2 595.27 L604.2 594.2 L605.2 593.11 L606.2 592 L607.2 590.86 L608.2 589.71 L609.2 588.53 L610.2 587.32 L611.2 586.09 L612.2 584.84 L613.2 583.56 L614.2 582.26 L615.2 580.93 L616.2 579.58 L617.2 578.2 L618.2 576.79 L619.2 575.36 L620.2 573.9 L621.2 572.42 L622.2 570.91 L623.2 569.38 L624.2 567.82 L625.2 566.23 L626.2 564.63 L627.2 563 L628.2 561.36 L629.2 559.69 L630.2 558.01 L631.2 556.31 L632.2 554.6 L633.2 552.87 L634.2 551.13 L635.2 549.39 L636.2 547.64 L637.2 545.89 L638.2 544.13 L639.2 542.38 L640.2 540.62 L641.2 538.87 L642.2 537.13 L643.2 535.39 L644.2 533.66 L645.2 531.94 L646.2 530.23 L647.2 528.54 L648.2 526.85 L649.2 525.17 L650.2 523.5 L651.2 521.84 L652.2 520.19 L653.2 518.55 L654.2 516.91 L655.2 515.27 L656.2 513.64 L657.2 512.01 L658.2 510.37 L659.2 508.74 L660.2 507.1 L661.2 505.46 L662.2 503.82 L663.2 502.17 L664.2 500.52 L665.2 498.86 L666.2 497.19 L667.2 495.51 L668.2 493.83 L669.2 492.15 L670.2 490.45 L671.2 488.75 L672.2 487.04 L673.2 485.32 L674.2 483.59 L675.2 481.86 L676.2 480.12 L677.2 478.38 L678.2 476.64 L679.2 474.89 L680.2 473.13 L681.2 471.38 L682.2 469.62 L683.2 467.86 L684.2 466.1 L685.2 464.34 L686.2 462.59 L687.2 460.83 L688.2 459.07 L689.2 457.31 L690.2 455.56 L691.2 453.8 L692.2 452.04 L693.2 450.29 L694.2 448.54 L695.2 446.78 L696.2 445.03 L697.2 443.29 L698.2 441.55 L699.2 439.81 L700.2 438.08 L701.2 436.37 L702.2 434.66 L703.2 432.97 L704.2 431.3 L705.2 429.64 L706.2 428.02 L707.2 426.41 L708.2 424.84 L709.2 423.3 L710.2 421.8 L711.2 420.33 L712.2 418.9 L713.2 417.51 L714.2 416.16 L715.2 414.85 L716.2 413.59 L717.2 412.36 L718.2 411.18 L719.2 410.05 L720.2 408.96 L721.2 407.91 L722.2 406.91 L723.2 405.95 L724.2 405.04 L725.2 404.17 L726.2 403.35 L727.2 402.58 L728.2 401.86 L729.2 401.18 L730.2 400.55 L731.2 399.97 L732.2 399.45 L733.2 398.97 L734.2 398.54 L735.2 398.16 L736.2 397.84 L737.2 397.57 L738.2 397.36 L739.2 397.2 L740.2 397.11 L741.2 397.07 L742.2 397.09 L743.2 397.18 L744.2 397.33 L745.2 397.54 L746.2 397.81 L747.2 398.15 L748.2 398.56 L749.2 399.03 L750.2 399.56 L751.2 400.16 L752.2 400.81 L753.2 401.53 L754.2 402.3 L755.2 403.12 L756.2 404 L757.2 404.93 L758.2 405.9 L759.2 406.92 L760.2 407.99 L761.2 409.09 L762.2 410.23 L763.2 411.41 L764.2 412.62 L765.2 413.87 L766.2 415.16 L767.2 416.48 L768.2 417.83 L769.2 419.22 L770.2 420.65 L771.2 422.11 L772.2 423.61 L773.2 425.15 L774.2 426.73 L775.2 428.35 L776.2 430 L777.2 431.7 L778.2 433.45 L779.2 435.23 L780.2 437.05 L781.2 438.92 L782.2 440.83 L783.2 442.79 L784.2 444.78 L785.2 446.82 L786.2 448.91 L787.2 451.04 L788.2 453.21 L789.2 455.44 L790.2 457.72 L791.2 460.05 L792.2 462.44 L793.2 464.89 L794.2 467.4 L795.2 469.96 L796.2 472.59 L797.2 475.26 L798.2 477.98 L799.2 480.74 L800.2 483.53 L801.2 486.34 L802.2 489.16 L803.2 491.97 L804.2 494.77 L805.2 497.54 L806.2 500.27 L807.2 502.96 L808.2 505.59 L809.2 508.17 L810.2 510.7 L811.2 513.16 L812.2 515.57 L813.2 517.93 L814.2 520.24 L815.2 522.5 L816.2 524.73 L817.2 526.91 L818.2 529.07 L819.2 531.2 L820.2 533.3 L821.2 535.37 L822.2 537.43 L823.2 539.46 L824.2 541.46 L825.2 543.45 L826.2 545.41 L827.2 547.34 L828.2 549.25 L829.2 551.13 L830.2 552.98 L831.2 554.81 L832.2 556.59 L833.2 558.35 L834.2 560.07 L835.2 561.76 L836.2 563.4 L837.2 565.02 L838.2 566.59 L839.2 568.12 L840.2 569.62 L841.2 571.07 L842.2 572.49 L843.2 573.86 L844.2 575.2 L845.2 576.5 L846.2 577.76 L847.2 578.98 L848.2 580.17 L849.2 581.32 L850.2 582.44 L851.2 583.52 L852.2 584.56 L853.2 585.58 L854.2 586.56 L855.2 587.51 L856.2 588.42 L857.2 589.3 L858.2 590.15 L859.2 590.97 L860.2 591.76 L861.2 592.54 L862.2 593.3 L863.2 594.02 L864.2 594.7 L865.2 595.35 L866.2 595.95 L867.2 596.52 L868.2 597.05 L869.2 597.54 L870.2 598 L871.2 598.42 L872.2 598.79 L873.2 599.12 L874.2 599.41 L875.2 599.64 L876.2 599.83 L877.2 599.97 L878.2 600.07 L879.2 600.14 L880.2 600.18 L881.2 600.19 L882.2 600.19 L883.2 600.19 L884.2 600.19 L885.2 600.17 L886.2 600.15 L887.2 600.1 L888.2 600.03 L889.2 599.92 L890.2 599.81 L891.2 599.64 L892.2 599.4 L893.2 599.1 L894.2 598.75 L895.2 598.35 L896.2 597.96 L897.2 597.18 L898.2 595.7 L899.2 594.11 L900.2 593.04 L901.2 592.41 L902.2 591.84 L903.2 591.32 L904.2 590.82 L905.2 590.35 L906.2 589.89 L907.2 589.43 L908.2 588.96 L909.2 588.47 L910.2 587.97 L911.2 587.43 L912.2 586.87 L913.2 586.27 L914.2 585.64 L915.2 584.98 L916.2 584.3 L917.2 583.6 L918.2 582.89 L919.2 582.17 L920.2 581.45 L921.2 580.74 L922.2 580.02 L923.2 579.31 L924.2 578.6 L925.2 577.9 L926.2 577.21 L927.2 576.51 L928.2 575.82 L929.2 575.12 L930.2 574.42 L931.2 573.72 L932.2 573.01 L933.2 572.3 L934.2 571.57 L935.2 570.84 L936.2 570.1 L937.2 569.36 L938.2 568.6 L939.2 567.84 L940.2 567.06 L941.2 566.28 L942.2 565.48 L943.2 564.66 L944.2 563.84 L945.2 562.99 L946.2 562.13 L947.2 561.26 L948.2 560.37 L949.2 559.47 L950.2 558.57 L951.2 557.67 L952.2 556.78 L953.2 555.91 L954.2 555.05 L954.7 554.2" fill="none" stroke="#bb7474" stroke-width="2.3" stroke-linejoin="round" stroke-linecap="butt"/>
<path d="M310.2 287 L311.2 278.57 L312.2 270.16 L313.2 261.77 L314.2 253.4 L315.2 245.08 L316.2 236.81 L317.2 228.59 L318.2 220.45 L319.2 212.42 L320.2 204.52 L321.2 196.83 L322.2 189.41 L323.2 182.36 L324.2 175.78 L325.2 169.78 L326.2 164.44 L327.2 159.79 L328.2 155.84 L329.2 152.59 L330.2 150 L331.2 148.03 L332.2 146.63 L333.2 145.77 L334.2 145.13 L335.2 144.96 L336.2 145.26 L337.2 145.94 L338.2 146.86 L339.2 149.06 L340.2 154.1 L341.2 159.98 L342.2 164.53 L343.2 165.36 L344.2 151.74 L345.2 135.94 L346.2 134.43 L347.2 137.17 L348.2 141.22 L349.2 146.54 L350.2 153 L351.2 160.01 L352.2 167.03 L353.2 174.32 L354.2 181.74 L355.2 189.13 L356.2 196.51 L357.2 203.86 L358.2 211.12 L359.2 218.26 L360.2 225.25 L361.2 232.11 L362.2 238.86 L363.2 245.57 L364.2 252.28 L365.2 259.06 L366.2 265.94 L367.2 272.96 L368.2 280.09 L369.2 287.33 L370.2 294.63 L371.2 301.97 L372.2 309.35 L373.2 316.79 L374.2 324.32 L375.2 331.99 L376.2 339.86 L377.2 347.95 L378.2 356.29 L379.2 364.86 L380.2 373.63 L381.2 382.56 L382.2 391.61 L383.2 400.71 L384.2 409.82 L385.2 418.89 L386.2 427.9 L387.2 436.82 L388.2 445.67 L389.2 454.43 L390.2 463.12 L391.2 471.7 L392.2 480.15 L393.2 488.4 L394.2 496.41 L395.2 504.13 L396.2 511.55 L397.2 518.65 L398.2 525.44 L399.2 531.92 L400.2 538.1 L401.2 543.96 L402.2 549.49 L403.2 554.67 L404.2 559.46 L405.2 563.86 L406.2 567.89 L407.2 571.58 L408.2 574.99 L409.2 578.19 L410.2 581.23 L411.2 584.16 L412.2 587.02 L413.2 589.8 L414.2 592.5 L415.2 595.1 L416.2 597.6 L417.2 599.96 L418.2 602.19 L419.2 604.29 L420.2 606.24 L421.2 608.06 L422.2 609.75 L423.2 611.32 L424.2 612.76 L425.2 614.09 L426.2 615.31 L427.2 616.41 L428.2 617.41 L429.2 618.3 L430.2 619.09 L431.2 619.78 L432.2 620.39 L433.2 620.91 L434.2 621.37 L435.2 621.76 L436.2 622.08 L437.2 622.34 L438.2 622.54 L439.2 622.69 L440.2 622.8 L441.2 622.88 L442.2 622.93 L443.2 622.96 L444.2 622.98 L445.2 623 L446.2 623.01 L447.2 623.02 L448.2 623.03 L449.2 623.03 L450.2 623.04 L451.2 623.04 L452.2 623.05 L453.2 623.05 L454.2 623.06 L455.2 623.07 L456.2 623.07 L457.2 623.08 L458.2 623.1 L459.2 623.11 L460.2 623.13 L461.2 623.15 L462.2 623.18 L463.2 623.22 L464.2 623.25 L465.2 623.28 L466.2 623.42 L467.2 623.72 L468.2 624.12 L469.2 624.58 L470.2 625.07 L471.2 625.56 L472.2 626.04 L473.2 626.59 L474.2 627.21 L475.2 627.88 L476.2 628.57 L477.2 629.26 L478.2 629.92 L479.2 630.53 L480.2 631.09 L481.2 631.6 L482.2 632.08 L483.2 632.51 L484.2 632.9 L485.2 633.23 L486.2 633.49 L487.2 633.68 L488.2 633.81 L489.2 633.9 L490.2 633.95 L491.2 633.98 L492.2 633.99 L493.2 634 L494.2 634 L495.2 634 L496.2 634 L497.2 634 L498.2 634 L499.2 633.99 L500.2 633.98 L501.2 633.94 L502.2 633.89 L503.2 633.81 L504.2 633.69 L505.2 633.55 L506.2 633.36 L507.2 633.13 L508.2 632.87 L509.2 632.58 L510.2 632.27 L511.2 631.93 L512.2 631.58 L513.2 631.22 L514.2 630.86 L515.2 630.49 L516.2 630.12 L517.2 629.75 L518.2 629.38 L519.2 629.01 L520.2 628.64 L521.2 628.26 L522.2 627.88 L523.2 627.51 L524.2 627.13 L525.2 626.75 L526.2 626.37 L527.2 625.99 L528.2 625.61 L529.2 625.23 L530.2 624.86 L531.2 624.48 L532.2 624.11 L533.2 623.73 L534.2 623.36 L535.2 622.99 L536.2 622.63 L537.2 622.26 L538.2 621.89 L539.2 621.52 L540.2 621.15 L541.2 620.78 L542.2 620.41 L543.2 620.03 L544.2 619.65 L545.2 619.27 L546.2 618.88 L547.2 618.48 L548.2 618.07 L549.2 617.66 L550.2 617.24 L551.2 616.81 L552.2 616.36 L553.2 615.91 L554.2 615.45 L555.2 614.97 L556.2 614.48 L557.2 613.97 L558.2 613.46 L559.2 612.92 L560.2 612.37 L561.2 611.8 L562.2 611.22 L563.2 610.62 L564.2 609.99 L565.2 609.35 L566.2 608.69 L567.2 608.02 L568.2 607.32 L569.2 606.6 L570.2 605.87 L571.2 605.11 L572.2 604.34 L573.2 603.55 L574.2 602.74 L575.2 601.91 L576.2 601.07 L577.2 600.21 L578.2 599.33 L579.2 598.44 L580.2 597.53 L581.2 596.6 L582.2 595.66 L583.2 594.7 L584.2 593.72 L585.2 592.73 L586.2 591.72 L587.2 590.69 L588.2 589.64 L589.2 588.58 L590.2 587.5 L591.2 586.4 L592.2 585.28 L593.2 584.15 L594.2 583 L595.2 581.83 L596.2 580.64 L597.2 579.44 L598.2 578.22 L599.2 576.98 L600.2 575.73 L601.2 574.45 L602.2 573.16 L603.2 571.84 L604.2 570.51 L605.2 569.15 L606.2 567.76 L607.2 566.35 L608.2 564.91 L609.2 563.45 L610.2 561.94 L611.2 560.41 L612.2 558.84 L613.2 557.24 L614.2 555.6 L615.2 553.92 L616.2 552.21 L617.2 550.47 L618.2 548.69 L619.2 546.89 L620.2 545.06 L621.2 543.2 L622.2 541.32 L623.2 539.42 L624.2 537.5 L625.2 535.57 L626.2 533.63 L627.2 531.67 L628.2 529.7 L629.2 527.73 L630.2 525.74 L631.2 523.74 L632.2 521.73 L633.2 519.7 L634.2 517.66 L635.2 515.59 L636.2 513.5 L637.2 511.39 L638.2 509.24 L639.2 507.06 L640.2 504.85 L641.2 502.6 L642.2 500.32 L643.2 498.01 L644.2 495.66 L645.2 493.28 L646.2 490.88 L647.2 488.46 L648.2 486.02 L649.2 483.58 L650.2 481.13 L651.2 478.68 L652.2 476.24 L653.2 473.8 L654.2 471.38 L655.2 468.97 L656.2 466.58 L657.2 464.2 L658.2 461.83 L659.2 459.48 L660.2 457.13 L661.2 454.79 L662.2 452.46 L663.2 450.12 L664.2 447.78 L665.2 445.43 L666.2 443.08 L667.2 440.71 L668.2 438.33 L669.2 435.93 L670.2 433.53 L671.2 431.1 L672.2 428.67 L673.2 426.22 L674.2 423.76 L675.2 421.29 L676.2 418.81 L677.2 416.33 L678.2 413.84 L679.2 411.35 L680.2 408.86 L681.2 406.37 L682.2 403.88 L683.2 401.4 L684.2 398.92 L685.2 396.44 L686.2 393.98 L687.2 391.52 L688.2 389.06 L689.2 386.62 L690.2 384.19 L691.2 381.77 L692.2 379.36 L693.2 376.97 L694.2 374.59 L695.2 372.23 L696.2 369.89 L697.2 367.56 L698.2 365.26 L699.2 362.98 L700.2 360.72 L701.2 358.48 L702.2 356.27 L703.2 354.09 L704.2 351.94 L705.2 349.83 L706.2 347.74 L707.2 345.69 L708.2 343.68 L709.2 341.71 L710.2 339.79 L711.2 337.9 L712.2 336.06 L713.2 334.27 L714.2 332.53 L715.2 330.84 L716.2 329.2 L717.2 327.61 L718.2 326.08 L719.2 324.6 L720.2 323.17 L721.2 321.8 L722.2 320.49 L723.2 319.23 L724.2 318.02 L725.2 316.88 L726.2 315.79 L727.2 314.76 L728.2 313.79 L729.2 312.88 L730.2 312.04 L731.2 311.25 L732.2 310.53 L733.2 309.88 L734.2 309.3 L735.2 308.79 L736.2 308.35 L737.2 307.99 L738.2 307.71 L739.2 307.51 L740.2 307.39 L741.2 307.35 L742.2 307.4 L743.2 307.54 L744.2 307.77 L745.2 308.1 L746.2 308.51 L747.2 309.02 L748.2 309.63 L749.2 310.33 L750.2 311.13 L751.2 312.03 L752.2 313.01 L753.2 314.09 L754.2 315.25 L755.2 316.49 L756.2 317.82 L757.2 319.21 L758.2 320.68 L759.2 322.21 L760.2 323.8 L761.2 325.44 L762.2 327.13 L763.2 328.88 L764.2 330.67 L765.2 332.5 L766.2 334.38 L767.2 336.31 L768.2 338.27 L769.2 340.29 L770.2 342.35 L771.2 344.46 L772.2 346.62 L773.2 348.83 L774.2 351.09 L775.2 353.41 L776.2 355.78 L777.2 358.21 L778.2 360.69 L779.2 363.22 L780.2 365.8 L781.2 368.44 L782.2 371.11 L783.2 373.84 L784.2 376.6 L785.2 379.4 L786.2 382.23 L787.2 385.08 L788.2 387.97 L789.2 390.87 L790.2 393.8 L791.2 396.74 L792.2 399.7 L793.2 402.67 L794.2 405.65 L795.2 408.64 L796.2 411.64 L797.2 414.64 L798.2 417.66 L799.2 420.68 L800.2 423.71 L801.2 426.75 L802.2 429.79 L803.2 432.85 L804.2 435.91 L805.2 438.97 L806.2 442.05 L807.2 445.13 L808.2 448.22 L809.2 451.33 L810.2 454.44 L811.2 457.56 L812.2 460.69 L813.2 463.82 L814.2 466.96 L815.2 470.11 L816.2 473.25 L817.2 476.39 L818.2 479.52 L819.2 482.64 L820.2 485.73 L821.2 488.8 L822.2 491.84 L823.2 494.84 L824.2 497.8 L825.2 500.71 L826.2 503.57 L827.2 506.38 L828.2 509.12 L829.2 511.82 L830.2 514.45 L831.2 517.02 L832.2 519.53 L833.2 521.99 L834.2 524.38 L835.2 526.72 L836.2 529 L837.2 531.23 L838.2 533.4 L839.2 535.51 L840.2 537.58 L841.2 539.58 L842.2 541.54 L843.2 543.44 L844.2 545.3 L845.2 547.1 L846.2 548.85 L847.2 550.55 L848.2 552.2 L849.2 553.81 L850.2 555.37 L851.2 556.88 L852.2 558.34 L853.2 559.76 L854.2 561.13 L855.2 562.45 L856.2 563.73 L857.2 564.95 L858.2 566.13 L859.2 567.26 L860.2 568.34 L861.2 569.42 L862.2 570.45 L863.2 571.42 L864.2 572.34 L865.2 573.2 L866.2 574 L867.2 574.74 L868.2 575.42 L869.2 576.04 L870.2 576.61 L871.2 577.13 L872.2 577.6 L873.2 578.03 L874.2 578.41 L875.2 578.77 L876.2 579.09 L877.2 579.38 L878.2 579.63 L879.2 579.85 L880.2 580.02 L881.2 580.13 L882.2 580.18 L883.2 580.19 L884.2 580.17 L885.2 580.09 L886.2 579.98 L887.2 579.83 L888.2 579.64 L889.2 579.4 L890.2 579.14 L891.2 578.83 L892.2 578.48 L893.2 578.1 L894.2 577.73 L895.2 577.07 L896.2 575.84 L897.2 574.26 L898.2 572.84 L899.2 571.86 L900.2 571.1 L901.2 570.48 L902.2 569.9 L903.2 569.33 L904.2 568.75 L905.2 568.14 L906.2 567.49 L907.2 566.8 L908.2 566.09 L909.2 565.35 L910.2 564.57 L911.2 563.74 L912.2 562.89 L913.2 562.01 L914.2 561.11 L915.2 560.19 L916.2 559.27 L917.2 558.34 L918.2 557.42 L919.2 556.5 L920.2 555.59 L921.2 554.69 L922.2 553.79 L923.2 552.89 L924.2 552 L925.2 551.1 L926.2 550.2 L927.2 549.29 L928.2 548.37 L929.2 547.42 L930.2 546.46 L931.2 545.48 L932.2 544.47 L933.2 543.45 L934.2 542.4 L935.2 541.33 L936.2 540.24 L937.2 539.14 L938.2 538.04 L939.2 536.93 L940.2 535.82 L941.2 534.72 L942.2 533.63 L943.2 532.54 L944.2 531.45 L945.2 530.38 L946.2 529.31 L947.2 528.26 L948.2 527.2 L949.2 526.16 L950.2 525.14 L951.2 524.14 L952.2 523.17 L953.2 522.22 L954.2 521.3 L954.7 520.4" fill="none" stroke="#3661ff" stroke-width="2.3" stroke-linejoin="round" stroke-linecap="butt"/>
<line x1="242" y1="91.9" x2="242" y2="724.4" stroke="#c8c8c8" stroke-width="2.4" stroke-linecap="butt" />
<line x1="239.4" y1="91.9" x2="239.4" y2="736.5" stroke="#4a4a4a" stroke-width="3" stroke-linecap="butt" />
<line x1="227.1" y1="726.8" x2="1025.4" y2="726.8" stroke="#dcdcdc" stroke-width="2.2" stroke-linecap="butt" />
<line x1="227.1" y1="724.4" x2="1026.9" y2="724.4" stroke="#1c1c1c" stroke-width="2.8" stroke-linecap="butt" />
<line x1="234.9" y1="91.9" x2="1026.9" y2="91.9" stroke="#000" stroke-width="2.9" stroke-linecap="butt" />
<line x1="1025.4" y1="91.9" x2="1025.4" y2="731" stroke="#000" stroke-width="2.9" stroke-linecap="butt" />
<line x1="233.6" y1="666.84" x2="240.4" y2="666.84" stroke="#222" stroke-width="2.4" stroke-linecap="butt" />
<line x1="227.1" y1="609.28" x2="240.4" y2="609.28" stroke="#111" stroke-width="2.7" stroke-linecap="butt" />
<line x1="233.6" y1="551.72" x2="240.4" y2="551.72" stroke="#222" stroke-width="2.4" stroke-linecap="butt" />
<line x1="227.1" y1="494.16" x2="240.4" y2="494.16" stroke="#111" stroke-width="2.7" stroke-linecap="butt" />
<line x1="233.6" y1="436.6" x2="240.4" y2="436.6" stroke="#222" stroke-width="2.4" stroke-linecap="butt" />
<line x1="227.1" y1="379.04" x2="240.4" y2="379.04" stroke="#111" stroke-width="2.7" stroke-linecap="butt" />
<line x1="233.6" y1="321.48" x2="240.4" y2="321.48" stroke="#222" stroke-width="2.4" stroke-linecap="butt" />
<line x1="227.1" y1="263.92" x2="240.4" y2="263.92" stroke="#111" stroke-width="2.7" stroke-linecap="butt" />
<line x1="233.6" y1="206.36" x2="240.4" y2="206.36" stroke="#222" stroke-width="2.4" stroke-linecap="butt" />
<line x1="227.1" y1="148.8" x2="240.4" y2="148.8" stroke="#111" stroke-width="2.7" stroke-linecap="butt" />
<line x1="383.7" y1="724.4" x2="383.7" y2="736.5" stroke="#444" stroke-width="3" stroke-linecap="butt" />
<line x1="526.33" y1="724.4" x2="526.33" y2="736.5" stroke="#444" stroke-width="3" stroke-linecap="butt" />
<line x1="668.96" y1="724.4" x2="668.96" y2="736.5" stroke="#444" stroke-width="3" stroke-linecap="butt" />
<line x1="811.59" y1="724.4" x2="811.59" y2="736.5" stroke="#444" stroke-width="3" stroke-linecap="butt" />
<line x1="954.22" y1="724.4" x2="954.22" y2="736.5" stroke="#444" stroke-width="3" stroke-linecap="butt" />
<line x1="312.38" y1="724.4" x2="312.38" y2="731" stroke="#444" stroke-width="2.6" stroke-linecap="butt" />
<line x1="455.01" y1="724.4" x2="455.01" y2="731" stroke="#444" stroke-width="2.6" stroke-linecap="butt" />
<line x1="597.64" y1="724.4" x2="597.64" y2="731" stroke="#444" stroke-width="2.6" stroke-linecap="butt" />
<line x1="740.27" y1="724.4" x2="740.27" y2="731" stroke="#444" stroke-width="2.6" stroke-linecap="butt" />
<line x1="882.9" y1="724.4" x2="882.9" y2="731" stroke="#444" stroke-width="2.6" stroke-linecap="butt" />
<text class="t" transform="translate(138.92 168.73) scale(0.9217 1)" font-size="71.62" fill="#000">0.5</text>
<text class="t" transform="translate(136.02 279.34) scale(0.9358 1)" font-size="70.59" fill="#000">0.4</text>
<text class="t" transform="translate(138.92 397.53) scale(0.9294 1)" font-size="71.03" fill="#000">0.3</text>
<text class="t" transform="translate(136.66 514.35) scale(0.9656 1)" font-size="70.15" fill="#000">0.2</text>
<text class="t" transform="translate(142.33 629.34) scale(0.8924 1)" font-size="70.88" fill="#000">0.1</text>
<text class="t" transform="translate(134.65 739.37) scale(0.9859 1)" font-size="68.97" fill="#000">0.0</text>
<text class="t" transform="translate(190.94 787.43) scale(0.9965 1)" font-size="66.67" fill="#000">300</text>
<text class="t" transform="translate(331.17 787.43) scale(0.9983 1)" font-size="66.67" fill="#000">400</text>
<text class="t" transform="translate(475.39 787.43) scale(0.9950 1)" font-size="66.67" fill="#000">500</text>
<text class="t" transform="translate(617.16 787.43) scale(1.0035 1)" font-size="66.67" fill="#000">600</text>
<text class="t" transform="translate(762.76 787.43) scale(1.0250 1)" font-size="66.67" fill="#000">700</text>
<text class="t" transform="translate(904.38 787.43) scale(1.0063 1)" font-size="66.67" fill="#000">800</text>
<text class="t" transform="translate(359 848.09) scale(0.9871 1)" font-size="67.03" fill="#000">Wavelength (nm)</text>
<text class="t" transform="translate(95.13 454.06) rotate(-90) scale(0.9762 1)" font-size="67.23" fill="#000">Abs</text>
<text class="t" transform="translate(52.68 116.95) scale(1.1144 1)" font-size="95.42" fill="#000">a</text>
<line x1="426.1" y1="156.4" x2="494.2" y2="156.4" stroke="#8f8f8f" stroke-width="3" stroke-linecap="butt" />
<text class="t" transform="translate(495.88 166.34) scale(0.9918 1)" font-size="41.71" fill="#000">10 µM</text>
<line x1="426.1" y1="192.62" x2="494.2" y2="192.62" stroke="#ff5555" stroke-width="2" stroke-linecap="butt" />
<text class="t" transform="translate(495.23 202.56) scale(0.9976 1)" font-size="41.71" fill="#000">20 µM</text>
<line x1="426.1" y1="228.84" x2="494.2" y2="228.84" stroke="#1e90ff" stroke-width="2.6" stroke-linecap="butt" />
<text class="t" transform="translate(496.17 238.78) scale(0.9892 1)" font-size="41.71" fill="#000">40 µM</text>
<line x1="426.1" y1="265.06" x2="494.2" y2="265.06" stroke="#6ee1b9" stroke-width="4.2" stroke-linecap="butt" />
<text class="t" transform="translate(495.23 275) scale(0.9976 1)" font-size="41.71" fill="#000">60 µM</text>
<line x1="426.1" y1="301.28" x2="494.2" y2="301.28" stroke="#d88af0" stroke-width="2.4" stroke-linecap="butt" />
<text class="t" transform="translate(495.44 311.22) scale(0.9957 1)" font-size="41.71" fill="#000">80 µM</text>
<line x1="426.1" y1="337.5" x2="494.2" y2="337.5" stroke="#ffbf00" stroke-width="2.2" stroke-linecap="butt" />
<text class="t" transform="translate(495.89 347.44) scale(0.9896 1)" font-size="41.71" fill="#000">100 µM</text>
<line x1="426.1" y1="373.72" x2="494.2" y2="373.72" stroke="#00ffff" stroke-width="5" stroke-linecap="butt" />
<text class="t" transform="translate(495.89 383.66) scale(0.9896 1)" font-size="41.71" fill="#000">120 µM</text>
<line x1="426.1" y1="409.94" x2="494.2" y2="409.94" stroke="#c07c7c" stroke-width="3" stroke-linecap="butt" />
<text class="t" transform="translate(495.24 419.88) scale(0.9945 1)" font-size="41.71" fill="#000">200 µM</text>
<line x1="426.1" y1="446.16" x2="494.2" y2="446.16" stroke="#3661ff" stroke-width="2.4" stroke-linecap="butt" />
<text class="t" transform="translate(496.18 456.1) scale(0.9874 1)" font-size="41.71" fill="#000">400 µM</text>
<line x1="1223.3" y1="618" x2="1237" y2="618" stroke="#b4b4b4" stroke-width="5" stroke-linecap="butt" />
<line x1="1225" y1="618" x2="1237" y2="618" stroke="#707070" stroke-width="2.6" stroke-linecap="butt" />
<line x1="1223.3" y1="496.1" x2="1237" y2="496.1" stroke="#b4b4b4" stroke-width="5" stroke-linecap="butt" />
<line x1="1225" y1="496.1" x2="1237" y2="496.1" stroke="#707070" stroke-width="2.6" stroke-linecap="butt" />
<line x1="1223.3" y1="374.2" x2="1237" y2="374.2" stroke="#b4b4b4" stroke-width="5" stroke-linecap="butt" />
<line x1="1225" y1="374.2" x2="1237" y2="374.2" stroke="#707070" stroke-width="2.6" stroke-linecap="butt" />
<line x1="1223.3" y1="252.3" x2="1237" y2="252.3" stroke="#b4b4b4" stroke-width="5" stroke-linecap="butt" />
<line x1="1225" y1="252.3" x2="1237" y2="252.3" stroke="#707070" stroke-width="2.6" stroke-linecap="butt" />
<line x1="1223.3" y1="130.4" x2="1237" y2="130.4" stroke="#b4b4b4" stroke-width="5" stroke-linecap="butt" />
<line x1="1225" y1="130.4" x2="1237" y2="130.4" stroke="#707070" stroke-width="2.6" stroke-linecap="butt" />
<line x1="1229.5" y1="678.95" x2="1237" y2="678.95" stroke="#b4b4b4" stroke-width="4.6" stroke-linecap="butt" />
<line x1="1230.5" y1="678.95" x2="1237" y2="678.95" stroke="#707070" stroke-width="2.4" stroke-linecap="butt" />
<line x1="1229.5" y1="557.05" x2="1237" y2="557.05" stroke="#b4b4b4" stroke-width="4.6" stroke-linecap="butt" />
<line x1="1230.5" y1="557.05" x2="1237" y2="557.05" stroke="#707070" stroke-width="2.4" stroke-linecap="butt" />
<line x1="1229.5" y1="435.15" x2="1237" y2="435.15" stroke="#b4b4b4" stroke-width="4.6" stroke-linecap="butt" />
<line x1="1230.5" y1="435.15" x2="1237" y2="435.15" stroke="#707070" stroke-width="2.4" stroke-linecap="butt" />
<line x1="1229.5" y1="313.25" x2="1237" y2="313.25" stroke="#b4b4b4" stroke-width="4.6" stroke-linecap="butt" />
<line x1="1230.5" y1="313.25" x2="1237" y2="313.25" stroke="#707070" stroke-width="2.4" stroke-linecap="butt" />
<line x1="1229.5" y1="191.35" x2="1237" y2="191.35" stroke="#b4b4b4" stroke-width="4.6" stroke-linecap="butt" />
<line x1="1230.5" y1="191.35" x2="1237" y2="191.35" stroke="#707070" stroke-width="2.4" stroke-linecap="butt" />
<line x1="1259.5" y1="724.3" x2="1259.5" y2="736" stroke="#b4b4b4" stroke-width="5" stroke-linecap="butt" />
<line x1="1259.5" y1="724.3" x2="1259.5" y2="735" stroke="#707070" stroke-width="2.6" stroke-linecap="butt" />
<line x1="1436.69" y1="724.3" x2="1436.69" y2="736" stroke="#b4b4b4" stroke-width="5" stroke-linecap="butt" />
<line x1="1436.69" y1="724.3" x2="1436.69" y2="735" stroke="#707070" stroke-width="2.6" stroke-linecap="butt" />
<line x1="1613.89" y1="724.3" x2="1613.89" y2="736" stroke="#b4b4b4" stroke-width="5" stroke-linecap="butt" />
<line x1="1613.89" y1="724.3" x2="1613.89" y2="735" stroke="#707070" stroke-width="2.6" stroke-linecap="butt" />
<line x1="1791.09" y1="724.3" x2="1791.09" y2="736" stroke="#b4b4b4" stroke-width="5" stroke-linecap="butt" />
<line x1="1791.09" y1="724.3" x2="1791.09" y2="735" stroke="#707070" stroke-width="2.6" stroke-linecap="butt" />
<line x1="1968.28" y1="724.3" x2="1968.28" y2="736" stroke="#b4b4b4" stroke-width="5" stroke-linecap="butt" />
<line x1="1968.28" y1="724.3" x2="1968.28" y2="735" stroke="#707070" stroke-width="2.6" stroke-linecap="butt" />
<line x1="1348.1" y1="724.3" x2="1348.1" y2="731" stroke="#b4b4b4" stroke-width="4.6" stroke-linecap="butt" />
<line x1="1348.1" y1="724.3" x2="1348.1" y2="730" stroke="#707070" stroke-width="2.4" stroke-linecap="butt" />
<line x1="1525.29" y1="724.3" x2="1525.29" y2="731" stroke="#b4b4b4" stroke-width="4.6" stroke-linecap="butt" />
<line x1="1525.29" y1="724.3" x2="1525.29" y2="730" stroke="#707070" stroke-width="2.4" stroke-linecap="butt" />
<line x1="1702.49" y1="724.3" x2="1702.49" y2="731" stroke="#b4b4b4" stroke-width="4.6" stroke-linecap="butt" />
<line x1="1702.49" y1="724.3" x2="1702.49" y2="730" stroke="#707070" stroke-width="2.4" stroke-linecap="butt" />
<line x1="1879.68" y1="724.3" x2="1879.68" y2="731" stroke="#b4b4b4" stroke-width="4.6" stroke-linecap="butt" />
<line x1="1879.68" y1="724.3" x2="1879.68" y2="730" stroke="#707070" stroke-width="2.4" stroke-linecap="butt" />
<rect x="1237" y="93.2" width="791" height="631.1" fill="none" stroke="#b4b4b4" stroke-width="5.2"/>
<rect x="1237" y="93.2" width="791" height="631.1" fill="none" stroke="#6c6c6c" stroke-width="3"/>
<line x1="1401.26" y1="409.91" x2="1401.26" y2="429.91" stroke="#ffdcdf" stroke-width="4" stroke-linecap="butt" />
<line x1="1394.26" y1="409.91" x2="1408.26" y2="409.91" stroke="#ffdcdf" stroke-width="3.2" stroke-linecap="butt" />
<line x1="1394.26" y1="429.91" x2="1408.26" y2="429.91" stroke="#ffdcdf" stroke-width="3.2" stroke-linecap="butt" />
<line x1="1495.76" y1="261.82" x2="1495.76" y2="309.82" stroke="#ffdcdf" stroke-width="4" stroke-linecap="butt" />
<line x1="1488.76" y1="261.82" x2="1502.76" y2="261.82" stroke="#ffdcdf" stroke-width="3.2" stroke-linecap="butt" />
<line x1="1488.76" y1="309.82" x2="1502.76" y2="309.82" stroke="#ffdcdf" stroke-width="3.2" stroke-linecap="butt" />
<line x1="1732.02" y1="166.54" x2="1732.02" y2="201.54" stroke="#ffdcdf" stroke-width="4" stroke-linecap="butt" />
<line x1="1725.02" y1="166.54" x2="1739.02" y2="166.54" stroke="#ffdcdf" stroke-width="3.2" stroke-linecap="butt" />
<line x1="1725.02" y1="201.54" x2="1739.02" y2="201.54" stroke="#ffdcdf" stroke-width="3.2" stroke-linecap="butt" />
<line x1="1968.28" y1="143.38" x2="1968.28" y2="178.38" stroke="#ffdcdf" stroke-width="4" stroke-linecap="butt" />
<line x1="1961.28" y1="143.38" x2="1975.28" y2="143.38" stroke="#ffdcdf" stroke-width="3.2" stroke-linecap="butt" />
<line x1="1961.28" y1="178.38" x2="1975.28" y2="178.38" stroke="#ffdcdf" stroke-width="3.2" stroke-linecap="butt" />
<line x1="1275.83" y1="647.18" x2="1278.61" y2="640.02" stroke="#2c2c2c" stroke-width="3.7" stroke-linecap="butt" />
<line x1="1289.49" y1="617.6" x2="1300.39" y2="599.2" stroke="#2c2c2c" stroke-width="3.7" stroke-linecap="butt" />
<line x1="1314.27" y1="578.45" x2="1322.86" y2="567.04" stroke="#2c2c2c" stroke-width="3.7" stroke-linecap="butt" />
<line x1="1335" y1="545.43" x2="1349.39" y2="509.24" stroke="#2c2c2c" stroke-width="3.7" stroke-linecap="butt" />
<line x1="1360.79" y1="487.12" x2="1370.85" y2="471.55" stroke="#2c2c2c" stroke-width="3.7" stroke-linecap="butt" />
<line x1="1383.85" y1="450.21" x2="1395.03" y2="430.75" stroke="#2c2c2c" stroke-width="3.7" stroke-linecap="butt" />
<line x1="1408.46" y1="409.7" x2="1488.56" y2="296.04" stroke="#2c2c2c" stroke-width="3.7" stroke-linecap="butt" />
<line x1="1507.24" y1="280.88" x2="1720.54" y2="188.98" stroke="#2c2c2c" stroke-width="3.7" stroke-linecap="butt" />
<line x1="1744.46" y1="182.82" x2="1955.84" y2="162.09" stroke="#2c2c2c" stroke-width="3.7" stroke-linecap="butt" />
<circle cx="1259.5" cy="676.21" r="10.6" fill="url(#gb)"/>
<circle cx="1271.31" cy="658.84" r="10.6" fill="url(#gb)"/>
<circle cx="1283.13" cy="628.36" r="10.6" fill="url(#gb)"/>
<circle cx="1306.75" cy="588.44" r="10.6" fill="url(#gb)"/>
<circle cx="1330.38" cy="557.05" r="10.6" fill="url(#gb)"/>
<circle cx="1354" cy="497.62" r="10.6" fill="url(#gb)"/>
<circle cx="1377.63" cy="461.05" r="10.6" fill="url(#gb)"/>
<circle cx="1401.26" cy="419.91" r="10.6" fill="url(#gb)"/>
<circle cx="1495.76" cy="285.82" r="10.6" fill="url(#gb)"/>
<circle cx="1732.02" cy="184.04" r="10.6" fill="url(#gb)"/>
<circle cx="1968.28" cy="160.88" r="10.6" fill="url(#gb)"/>
<text class="t" transform="translate(1105.29 144.77) scale(0.9778 1)" font-size="68.38" fill="#000">0.40</text>
<text class="t" transform="translate(1105.28 268.94) scale(0.9465 1)" font-size="70.88" fill="#000">0.32</text>
<text class="t" transform="translate(1102.81 390.07) scale(0.9609 1)" font-size="68.97" fill="#000">0.24</text>
<text class="t" transform="translate(1102.79 511.89) scale(0.9949 1)" font-size="67.21" fill="#000">0.16</text>
<text class="t" transform="translate(1104.01 636.74) scale(0.9374 1)" font-size="70.88" fill="#000">0.08</text>
<text class="t" transform="translate(1245.1 787.8) scale(0.9191 1)" font-size="69.63" fill="#000">0</text>
<text class="t" transform="translate(1387.74 787.8) scale(0.9296 1)" font-size="69.63" fill="#000">150</text>
<text class="t" transform="translate(1555.46 787.8) scale(0.9784 1)" font-size="69.63" fill="#000">300</text>
<text class="t" transform="translate(1740.75 787.8) scale(0.9727 1)" font-size="69.63" fill="#000">450</text>
<text class="t" transform="translate(1915.91 787.8) scale(0.9750 1)" font-size="69.63" fill="#000">600</text>
<text class="t" transform="translate(1503.59 848.3) scale(0.9489 1)" font-size="69.5"><tspan x="0" y="0" font-size="69.5">H</tspan><tspan x="45.33" y="11.47" font-size="38.92">2</tspan><tspan x="63.4" y="0" font-size="69.5">O</tspan><tspan x="111.5" y="11.47" font-size="38.92">2</tspan><tspan x="126.1" y="0" font-size="69.5"> (µM)</tspan></text>
<text class="t" transform="translate(1083.78 597.66) rotate(-90) scale(1.0215 1)" font-size="65.01" fill="#000">Abs (652 nm)</text>
<text class="t" transform="translate(1034.8 115.72) scale(0.9788 1)" font-size="98.3" fill="#000">b</text>
<line x1="223.8" y1="1520.7" x2="236.6" y2="1520.7" stroke="#bdbdbd" stroke-width="4.6" stroke-linecap="butt" />
<line x1="224.5" y1="1520.7" x2="236.6" y2="1520.7" stroke="#4a4a4a" stroke-width="2.4" stroke-linecap="butt" />
<line x1="223.8" y1="1393.86" x2="236.6" y2="1393.86" stroke="#bdbdbd" stroke-width="4.6" stroke-linecap="butt" />
<line x1="224.5" y1="1393.86" x2="236.6" y2="1393.86" stroke="#4a4a4a" stroke-width="2.4" stroke-linecap="butt" />
<line x1="223.8" y1="1267.02" x2="236.6" y2="1267.02" stroke="#bdbdbd" stroke-width="4.6" stroke-linecap="butt" />
<line x1="224.5" y1="1267.02" x2="236.6" y2="1267.02" stroke="#4a4a4a" stroke-width="2.4" stroke-linecap="butt" />
<line x1="223.8" y1="1140.18" x2="236.6" y2="1140.18" stroke="#bdbdbd" stroke-width="4.6" stroke-linecap="butt" />
<line x1="224.5" y1="1140.18" x2="236.6" y2="1140.18" stroke="#4a4a4a" stroke-width="2.4" stroke-linecap="butt" />
<line x1="223.8" y1="1013.34" x2="236.6" y2="1013.34" stroke="#bdbdbd" stroke-width="4.6" stroke-linecap="butt" />
<line x1="224.5" y1="1013.34" x2="236.6" y2="1013.34" stroke="#4a4a4a" stroke-width="2.4" stroke-linecap="butt" />
<line x1="223.8" y1="886.5" x2="236.6" y2="886.5" stroke="#bdbdbd" stroke-width="4.6" stroke-linecap="butt" />
<line x1="224.5" y1="886.5" x2="236.6" y2="886.5" stroke="#4a4a4a" stroke-width="2.4" stroke-linecap="butt" />
<line x1="230" y1="1457.28" x2="236.6" y2="1457.28" stroke="#bdbdbd" stroke-width="4.4" stroke-linecap="butt" />
<line x1="230.5" y1="1457.28" x2="236.6" y2="1457.28" stroke="#4a4a4a" stroke-width="2.2" stroke-linecap="butt" />
<line x1="230" y1="1330.44" x2="236.6" y2="1330.44" stroke="#bdbdbd" stroke-width="4.4" stroke-linecap="butt" />
<line x1="230.5" y1="1330.44" x2="236.6" y2="1330.44" stroke="#4a4a4a" stroke-width="2.2" stroke-linecap="butt" />
<line x1="230" y1="1203.6" x2="236.6" y2="1203.6" stroke="#bdbdbd" stroke-width="4.4" stroke-linecap="butt" />
<line x1="230.5" y1="1203.6" x2="236.6" y2="1203.6" stroke="#4a4a4a" stroke-width="2.2" stroke-linecap="butt" />
<line x1="230" y1="1076.76" x2="236.6" y2="1076.76" stroke="#bdbdbd" stroke-width="4.4" stroke-linecap="butt" />
<line x1="230.5" y1="1076.76" x2="236.6" y2="1076.76" stroke="#4a4a4a" stroke-width="2.2" stroke-linecap="butt" />
<line x1="230" y1="949.92" x2="236.6" y2="949.92" stroke="#bdbdbd" stroke-width="4.4" stroke-linecap="butt" />
<line x1="230.5" y1="949.92" x2="236.6" y2="949.92" stroke="#4a4a4a" stroke-width="2.2" stroke-linecap="butt" />
<line x1="314.5" y1="1520.7" x2="314.5" y2="1533" stroke="#bdbdbd" stroke-width="4.6" stroke-linecap="butt" />
<line x1="314.5" y1="1520.7" x2="314.5" y2="1532.5" stroke="#4a4a4a" stroke-width="2.4" stroke-linecap="butt" />
<line x1="471.9" y1="1520.7" x2="471.9" y2="1533" stroke="#bdbdbd" stroke-width="4.6" stroke-linecap="butt" />
<line x1="471.9" y1="1520.7" x2="471.9" y2="1532.5" stroke="#4a4a4a" stroke-width="2.4" stroke-linecap="butt" />
<line x1="629.3" y1="1520.7" x2="629.3" y2="1533" stroke="#bdbdbd" stroke-width="4.6" stroke-linecap="butt" />
<line x1="629.3" y1="1520.7" x2="629.3" y2="1532.5" stroke="#4a4a4a" stroke-width="2.4" stroke-linecap="butt" />
<line x1="786.7" y1="1520.7" x2="786.7" y2="1533" stroke="#bdbdbd" stroke-width="4.6" stroke-linecap="butt" />
<line x1="786.7" y1="1520.7" x2="786.7" y2="1532.5" stroke="#4a4a4a" stroke-width="2.4" stroke-linecap="butt" />
<line x1="944.1" y1="1520.7" x2="944.1" y2="1533" stroke="#bdbdbd" stroke-width="4.6" stroke-linecap="butt" />
<line x1="944.1" y1="1520.7" x2="944.1" y2="1532.5" stroke="#4a4a4a" stroke-width="2.4" stroke-linecap="butt" />
<line x1="235.8" y1="1520.7" x2="235.8" y2="1527.5" stroke="#bdbdbd" stroke-width="4.4" stroke-linecap="butt" />
<line x1="235.8" y1="1520.7" x2="235.8" y2="1527" stroke="#4a4a4a" stroke-width="2.2" stroke-linecap="butt" />
<line x1="393.2" y1="1520.7" x2="393.2" y2="1527.5" stroke="#bdbdbd" stroke-width="4.4" stroke-linecap="butt" />
<line x1="393.2" y1="1520.7" x2="393.2" y2="1527" stroke="#4a4a4a" stroke-width="2.2" stroke-linecap="butt" />
<line x1="550.6" y1="1520.7" x2="550.6" y2="1527.5" stroke="#bdbdbd" stroke-width="4.4" stroke-linecap="butt" />
<line x1="550.6" y1="1520.7" x2="550.6" y2="1527" stroke="#4a4a4a" stroke-width="2.2" stroke-linecap="butt" />
<line x1="708" y1="1520.7" x2="708" y2="1527.5" stroke="#bdbdbd" stroke-width="4.4" stroke-linecap="butt" />
<line x1="708" y1="1520.7" x2="708" y2="1527" stroke="#4a4a4a" stroke-width="2.2" stroke-linecap="butt" />
<line x1="865.4" y1="1520.7" x2="865.4" y2="1527.5" stroke="#bdbdbd" stroke-width="4.4" stroke-linecap="butt" />
<line x1="865.4" y1="1520.7" x2="865.4" y2="1527" stroke="#4a4a4a" stroke-width="2.2" stroke-linecap="butt" />
<line x1="1022.8" y1="1520.7" x2="1022.8" y2="1527.5" stroke="#bdbdbd" stroke-width="4.4" stroke-linecap="butt" />
<line x1="1022.8" y1="1520.7" x2="1022.8" y2="1527" stroke="#4a4a4a" stroke-width="2.2" stroke-linecap="butt" />
<rect x="236.6" y="886.5" width="786.7" height="634.2" fill="none" stroke="#bdbdbd" stroke-width="4.6"/>
<rect x="236.6" y="886.5" width="786.7" height="634.2" fill="none" stroke="#4c4c4c" stroke-width="2.8"/>
<line x1="692.26" y1="1121.18" x2="692.26" y2="1159.18" stroke="#f0ccff" stroke-width="3.8" stroke-linecap="butt" />
<line x1="685.26" y1="1121.18" x2="699.26" y2="1121.18" stroke="#ecc0ff" stroke-width="2.8" stroke-linecap="butt" />
<line x1="685.26" y1="1159.18" x2="699.26" y2="1159.18" stroke="#ecc0ff" stroke-width="2.8" stroke-linecap="butt" />
<line x1="944.1" y1="952.09" x2="944.1" y2="1010.09" stroke="#f0ccff" stroke-width="3.8" stroke-linecap="butt" />
<line x1="937.1" y1="952.09" x2="951.1" y2="952.09" stroke="#ecc0ff" stroke-width="2.8" stroke-linecap="butt" />
<line x1="937.1" y1="1010.09" x2="951.1" y2="1010.09" stroke="#ecc0ff" stroke-width="2.8" stroke-linecap="butt" />
<circle cx="314.5" cy="1444.78" r="7.8" fill="url(#gc)"/>
<circle cx="345.98" cy="1425.03" r="7.8" fill="url(#gc)"/>
<circle cx="377.46" cy="1388.42" r="7.8" fill="url(#gc)"/>
<circle cx="440.42" cy="1341.49" r="7.8" fill="url(#gc)"/>
<circle cx="503.38" cy="1305.07" r="7.8" fill="url(#gc)"/>
<circle cx="566.34" cy="1232.59" r="7.8" fill="url(#gc)"/>
<circle cx="629.3" cy="1188.74" r="7.8" fill="url(#gc)"/>
<circle cx="692.26" cy="1140.18" r="7.8" fill="url(#gc)"/>
<circle cx="944.1" cy="981.09" r="7.8" fill="url(#gc)"/>
<line x1="314.5" y1="1446.05" x2="944.7" y2="944.6" stroke="#ff5a5a" stroke-width="2.8" stroke-linecap="round" />
<text class="t" transform="translate(110.03 917.99) scale(0.9817 1)" font-size="67.06" fill="#000">0.35</text>
<text class="t" transform="translate(108.83 1034.27) scale(0.9565 1)" font-size="68.97" fill="#000">0.28</text>
<text class="t" transform="translate(111.29 1156.76) scale(0.9307 1)" font-size="69.12" fill="#000">0.21</text>
<text class="t" transform="translate(106.34 1289.66) scale(0.9478 1)" font-size="69.12" fill="#000">0.14</text>
<text class="t" transform="translate(106.33 1420.76) scale(0.9548 1)" font-size="69.12" fill="#000">0.07</text>
<text class="t" transform="translate(106.28 1544.36) scale(0.9717 1)" font-size="69.12" fill="#000">0.00</text>
<text class="t" transform="translate(297.78 1581.31) scale(1.0144 1)" font-size="68.89" fill="#000">0</text>
<text class="t" transform="translate(436.27 1581.31) scale(0.9913 1)" font-size="68.89" fill="#000">50</text>
<text class="t" transform="translate(571.27 1581.31) scale(0.9501 1)" font-size="68.89" fill="#000">100</text>
<text class="t" transform="translate(738.27 1581.31) scale(0.9501 1)" font-size="68.89" fill="#000">150</text>
<text class="t" transform="translate(888.05 1581.31) scale(0.9732 1)" font-size="68.89" fill="#000">200</text>
<text class="t" transform="translate(453.19 1639.6) scale(0.9478 1)" font-size="69.5"><tspan x="0" y="0" font-size="69.5">H</tspan><tspan x="45.33" y="11.47" font-size="38.92">2</tspan><tspan x="63.4" y="0" font-size="69.5">O</tspan><tspan x="111.5" y="11.47" font-size="38.92">2</tspan><tspan x="126.1" y="0" font-size="69.5"> (µM)</tspan></text>
<text class="t" transform="translate(93.09 1411.26) rotate(-90) scale(1.0076 1)" font-size="65.45" fill="#000">Abs (652 nm)</text>
<text transform="translate(48.71 904) scale(1.0065 1)" font-size="100.42" stroke="#000" stroke-width="0.7" stroke-linejoin="round" fill="#000">c</text>
<rect x="1241.1" y="967.5" width="49.8" height="553.2" fill="#d6e6ee" />
<rect x="1242.3" y="968.5" width="47.4" height="552.2" fill="url(#gd)" />
<rect x="1242.3" y="968.5" width="47.4" height="2.4" fill="#6aa8cc" opacity="0.35"/>
<line x1="1266" y1="958.5" x2="1266" y2="978.5" stroke="#9aa8ae" stroke-width="4" stroke-linecap="butt" opacity="0.3"/>
<line x1="1259.5" y1="958.5" x2="1272.5" y2="958.5" stroke="#9aa8ae" stroke-width="3" stroke-linecap="butt" opacity="0.3"/>
<line x1="1259.5" y1="978.5" x2="1272.5" y2="978.5" stroke="#9aa8ae" stroke-width="3" stroke-linecap="butt" opacity="0.3"/>
<rect x="1307.3" y="1286.45" width="49.8" height="234.25" fill="#d6e6ee" />
<rect x="1308.5" y="1287.45" width="47.4" height="233.25" fill="url(#gd)" />
<rect x="1308.5" y="1287.45" width="47.4" height="2.4" fill="#6aa8cc" opacity="0.35"/>
<line x1="1332.2" y1="1276.45" x2="1332.2" y2="1298.45" stroke="#9aa8ae" stroke-width="4" stroke-linecap="butt" opacity="0.3"/>
<line x1="1325.7" y1="1276.45" x2="1338.7" y2="1276.45" stroke="#9aa8ae" stroke-width="3" stroke-linecap="butt" opacity="0.3"/>
<line x1="1325.7" y1="1298.45" x2="1338.7" y2="1298.45" stroke="#9aa8ae" stroke-width="3" stroke-linecap="butt" opacity="0.3"/>
<rect x="1373.5" y="1379.39" width="49.8" height="141.31" fill="#d6e6ee" />
<rect x="1374.7" y="1380.39" width="47.4" height="140.31" fill="url(#gd)" />
<rect x="1374.7" y="1380.39" width="47.4" height="2.4" fill="#6aa8cc" opacity="0.35"/>
<line x1="1398.4" y1="1376.39" x2="1398.4" y2="1384.39" stroke="#9aa8ae" stroke-width="4" stroke-linecap="butt" opacity="0.3"/>
<line x1="1391.9" y1="1376.39" x2="1404.9" y2="1376.39" stroke="#9aa8ae" stroke-width="3" stroke-linecap="butt" opacity="0.3"/>
<line x1="1391.9" y1="1384.39" x2="1404.9" y2="1384.39" stroke="#9aa8ae" stroke-width="3" stroke-linecap="butt" opacity="0.3"/>
<rect x="1439.7" y="1420.73" width="49.8" height="99.97" fill="#d6e6ee" />
<rect x="1440.9" y="1421.73" width="47.4" height="98.97" fill="url(#gd)" />
<rect x="1440.9" y="1421.73" width="47.4" height="2.4" fill="#6aa8cc" opacity="0.35"/>
<line x1="1464.6" y1="1418.73" x2="1464.6" y2="1424.73" stroke="#9aa8ae" stroke-width="4" stroke-linecap="butt" opacity="0.3"/>
<line x1="1458.1" y1="1418.73" x2="1471.1" y2="1418.73" stroke="#9aa8ae" stroke-width="3" stroke-linecap="butt" opacity="0.3"/>
<line x1="1458.1" y1="1424.73" x2="1471.1" y2="1424.73" stroke="#9aa8ae" stroke-width="3" stroke-linecap="butt" opacity="0.3"/>
<rect x="1505.9" y="1394.78" width="49.8" height="125.92" fill="#d6e6ee" />
<rect x="1507.1" y="1395.78" width="47.4" height="124.92" fill="url(#gd)" />
<rect x="1507.1" y="1395.78" width="47.4" height="2.4" fill="#6aa8cc" opacity="0.35"/>
<line x1="1530.8" y1="1394.28" x2="1530.8" y2="1397.28" stroke="#9aa8ae" stroke-width="4" stroke-linecap="butt" opacity="0.3"/>
<line x1="1524.3" y1="1394.28" x2="1537.3" y2="1394.28" stroke="#9aa8ae" stroke-width="3" stroke-linecap="butt" opacity="0.3"/>
<line x1="1524.3" y1="1397.28" x2="1537.3" y2="1397.28" stroke="#9aa8ae" stroke-width="3" stroke-linecap="butt" opacity="0.3"/>
<rect x="1572.1" y="1411.98" width="49.8" height="108.72" fill="#d6e6ee" />
<rect x="1573.3" y="1412.98" width="47.4" height="107.72" fill="url(#gd)" />
<rect x="1573.3" y="1412.98" width="47.4" height="2.4" fill="#6aa8cc" opacity="0.35"/>
<line x1="1597" y1="1409.98" x2="1597" y2="1415.98" stroke="#9aa8ae" stroke-width="4" stroke-linecap="butt" opacity="0.3"/>
<line x1="1590.5" y1="1409.98" x2="1603.5" y2="1409.98" stroke="#9aa8ae" stroke-width="3" stroke-linecap="butt" opacity="0.3"/>
<line x1="1590.5" y1="1415.98" x2="1603.5" y2="1415.98" stroke="#9aa8ae" stroke-width="3" stroke-linecap="butt" opacity="0.3"/>
<rect x="1638.3" y="1386.93" width="49.8" height="133.77" fill="#d6e6ee" />
<rect x="1639.5" y="1387.93" width="47.4" height="132.77" fill="url(#gd)" />
<rect x="1639.5" y="1387.93" width="47.4" height="2.4" fill="#6aa8cc" opacity="0.35"/>
<line x1="1663.2" y1="1385.93" x2="1663.2" y2="1389.93" stroke="#9aa8ae" stroke-width="4" stroke-linecap="butt" opacity="0.3"/>
<line x1="1656.7" y1="1385.93" x2="1669.7" y2="1385.93" stroke="#9aa8ae" stroke-width="3" stroke-linecap="butt" opacity="0.3"/>
<line x1="1656.7" y1="1389.93" x2="1669.7" y2="1389.93" stroke="#9aa8ae" stroke-width="3" stroke-linecap="butt" opacity="0.3"/>
<rect x="1704.5" y="1382.4" width="49.8" height="138.3" fill="#d6e6ee" />
<rect x="1705.7" y="1383.4" width="47.4" height="137.3" fill="url(#gd)" />
<rect x="1705.7" y="1383.4" width="47.4" height="2.4" fill="#6aa8cc" opacity="0.35"/>
<line x1="1729.4" y1="1378.4" x2="1729.4" y2="1388.4" stroke="#9aa8ae" stroke-width="4" stroke-linecap="butt" opacity="0.3"/>
<line x1="1722.9" y1="1378.4" x2="1735.9" y2="1378.4" stroke="#9aa8ae" stroke-width="3" stroke-linecap="butt" opacity="0.3"/>
<line x1="1722.9" y1="1388.4" x2="1735.9" y2="1388.4" stroke="#9aa8ae" stroke-width="3" stroke-linecap="butt" opacity="0.3"/>
<rect x="1770.7" y="1385.72" width="49.8" height="134.98" fill="#d6e6ee" />
<rect x="1771.9" y="1386.72" width="47.4" height="133.98" fill="url(#gd)" />
<rect x="1771.9" y="1386.72" width="47.4" height="2.4" fill="#6aa8cc" opacity="0.35"/>
<line x1="1795.6" y1="1384.72" x2="1795.6" y2="1388.72" stroke="#9aa8ae" stroke-width="4" stroke-linecap="butt" opacity="0.3"/>
<line x1="1789.1" y1="1384.72" x2="1802.1" y2="1384.72" stroke="#9aa8ae" stroke-width="3" stroke-linecap="butt" opacity="0.3"/>
<line x1="1789.1" y1="1388.72" x2="1802.1" y2="1388.72" stroke="#9aa8ae" stroke-width="3" stroke-linecap="butt" opacity="0.3"/>
<rect x="1836.9" y="1377.88" width="49.8" height="142.82" fill="#d6e6ee" />
<rect x="1838.1" y="1378.88" width="47.4" height="141.82" fill="url(#gd)" />
<rect x="1838.1" y="1378.88" width="47.4" height="2.4" fill="#6aa8cc" opacity="0.35"/>
<line x1="1861.8" y1="1370.88" x2="1861.8" y2="1386.88" stroke="#9aa8ae" stroke-width="4" stroke-linecap="butt" opacity="0.3"/>
<line x1="1855.3" y1="1370.88" x2="1868.3" y2="1370.88" stroke="#9aa8ae" stroke-width="3" stroke-linecap="butt" opacity="0.3"/>
<line x1="1855.3" y1="1386.88" x2="1868.3" y2="1386.88" stroke="#9aa8ae" stroke-width="3" stroke-linecap="butt" opacity="0.3"/>
<rect x="1903.1" y="1360.07" width="49.8" height="160.63" fill="#d6e6ee" />
<rect x="1904.3" y="1361.07" width="47.4" height="159.63" fill="url(#gd)" />
<rect x="1904.3" y="1361.07" width="47.4" height="2.4" fill="#6aa8cc" opacity="0.35"/>
<line x1="1928" y1="1352.07" x2="1928" y2="1370.07" stroke="#9aa8ae" stroke-width="4" stroke-linecap="butt" opacity="0.3"/>
<line x1="1921.5" y1="1352.07" x2="1934.5" y2="1352.07" stroke="#9aa8ae" stroke-width="3" stroke-linecap="butt" opacity="0.3"/>
<line x1="1921.5" y1="1370.07" x2="1934.5" y2="1370.07" stroke="#9aa8ae" stroke-width="3" stroke-linecap="butt" opacity="0.3"/>
<rect x="1969.3" y="1379.08" width="49.8" height="141.62" fill="#d6e6ee" />
<rect x="1970.5" y="1380.08" width="47.4" height="140.62" fill="url(#gd)" />
<rect x="1970.5" y="1380.08" width="47.4" height="2.4" fill="#6aa8cc" opacity="0.35"/>
<line x1="1994.2" y1="1374.08" x2="1994.2" y2="1386.08" stroke="#9aa8ae" stroke-width="4" stroke-linecap="butt" opacity="0.3"/>
<line x1="1987.7" y1="1374.08" x2="2000.7" y2="1374.08" stroke="#9aa8ae" stroke-width="3" stroke-linecap="butt" opacity="0.3"/>
<line x1="1987.7" y1="1386.08" x2="2000.7" y2="1386.08" stroke="#9aa8ae" stroke-width="3" stroke-linecap="butt" opacity="0.3"/>
<line x1="1233" y1="1400" x2="2026" y2="1400" stroke="#000" stroke-width="2.5" stroke-linecap="butt" stroke-dasharray="16.33 3.6" stroke-dashoffset="3.2"/>
<line x1="1222" y1="1520.7" x2="1233" y2="1520.7" stroke="#bdbdbd" stroke-width="4.8" stroke-linecap="butt" />
<line x1="1223" y1="1520.7" x2="1233" y2="1520.7" stroke="#5a5a5a" stroke-width="2.4" stroke-linecap="butt" />
<line x1="1222" y1="1400" x2="1233" y2="1400" stroke="#bdbdbd" stroke-width="4.8" stroke-linecap="butt" />
<line x1="1223" y1="1400" x2="1233" y2="1400" stroke="#5a5a5a" stroke-width="2.4" stroke-linecap="butt" />
<line x1="1222" y1="1279.3" x2="1233" y2="1279.3" stroke="#bdbdbd" stroke-width="4.8" stroke-linecap="butt" />
<line x1="1223" y1="1279.3" x2="1233" y2="1279.3" stroke="#5a5a5a" stroke-width="2.4" stroke-linecap="butt" />
<line x1="1222" y1="1158.6" x2="1233" y2="1158.6" stroke="#bdbdbd" stroke-width="4.8" stroke-linecap="butt" />
<line x1="1223" y1="1158.6" x2="1233" y2="1158.6" stroke="#5a5a5a" stroke-width="2.4" stroke-linecap="butt" />
<line x1="1222" y1="1037.9" x2="1233" y2="1037.9" stroke="#bdbdbd" stroke-width="4.8" stroke-linecap="butt" />
<line x1="1223" y1="1037.9" x2="1233" y2="1037.9" stroke="#5a5a5a" stroke-width="2.4" stroke-linecap="butt" />
<line x1="1222" y1="917.2" x2="1233" y2="917.2" stroke="#bdbdbd" stroke-width="4.8" stroke-linecap="butt" />
<line x1="1223" y1="917.2" x2="1233" y2="917.2" stroke="#5a5a5a" stroke-width="2.4" stroke-linecap="butt" />
<line x1="1227.5" y1="1460.35" x2="1233" y2="1460.35" stroke="#bdbdbd" stroke-width="4.4" stroke-linecap="butt" />
<line x1="1228" y1="1460.35" x2="1233" y2="1460.35" stroke="#5a5a5a" stroke-width="2.2" stroke-linecap="butt" />
<line x1="1227.5" y1="1339.65" x2="1233" y2="1339.65" stroke="#bdbdbd" stroke-width="4.4" stroke-linecap="butt" />
<line x1="1228" y1="1339.65" x2="1233" y2="1339.65" stroke="#5a5a5a" stroke-width="2.2" stroke-linecap="butt" />
<line x1="1227.5" y1="1218.95" x2="1233" y2="1218.95" stroke="#bdbdbd" stroke-width="4.4" stroke-linecap="butt" />
<line x1="1228" y1="1218.95" x2="1233" y2="1218.95" stroke="#5a5a5a" stroke-width="2.2" stroke-linecap="butt" />
<line x1="1227.5" y1="1098.25" x2="1233" y2="1098.25" stroke="#bdbdbd" stroke-width="4.4" stroke-linecap="butt" />
<line x1="1228" y1="1098.25" x2="1233" y2="1098.25" stroke="#5a5a5a" stroke-width="2.2" stroke-linecap="butt" />
<line x1="1227.5" y1="977.55" x2="1233" y2="977.55" stroke="#bdbdbd" stroke-width="4.4" stroke-linecap="butt" />
<line x1="1228" y1="977.55" x2="1233" y2="977.55" stroke="#5a5a5a" stroke-width="2.2" stroke-linecap="butt" />
<line x1="1266" y1="1520.7" x2="1266" y2="1533.5" stroke="#c4c4c4" stroke-width="5" stroke-linecap="butt" />
<line x1="1266" y1="1520.7" x2="1266" y2="1533" stroke="#707070" stroke-width="2.6" stroke-linecap="butt" />
<line x1="1332.2" y1="1520.7" x2="1332.2" y2="1533.5" stroke="#c4c4c4" stroke-width="5" stroke-linecap="butt" />
<line x1="1332.2" y1="1520.7" x2="1332.2" y2="1533" stroke="#707070" stroke-width="2.6" stroke-linecap="butt" />
<line x1="1398.4" y1="1520.7" x2="1398.4" y2="1533.5" stroke="#c4c4c4" stroke-width="5" stroke-linecap="butt" />
<line x1="1398.4" y1="1520.7" x2="1398.4" y2="1533" stroke="#707070" stroke-width="2.6" stroke-linecap="butt" />
<line x1="1464.6" y1="1520.7" x2="1464.6" y2="1533.5" stroke="#c4c4c4" stroke-width="5" stroke-linecap="butt" />
<line x1="1464.6" y1="1520.7" x2="1464.6" y2="1533" stroke="#707070" stroke-width="2.6" stroke-linecap="butt" />
<line x1="1530.8" y1="1520.7" x2="1530.8" y2="1533.5" stroke="#c4c4c4" stroke-width="5" stroke-linecap="butt" />
<line x1="1530.8" y1="1520.7" x2="1530.8" y2="1533" stroke="#707070" stroke-width="2.6" stroke-linecap="butt" />
<line x1="1597" y1="1520.7" x2="1597" y2="1533.5" stroke="#c4c4c4" stroke-width="5" stroke-linecap="butt" />
<line x1="1597" y1="1520.7" x2="1597" y2="1533" stroke="#707070" stroke-width="2.6" stroke-linecap="butt" />
<line x1="1663.2" y1="1520.7" x2="1663.2" y2="1533.5" stroke="#c4c4c4" stroke-width="5" stroke-linecap="butt" />
<line x1="1663.2" y1="1520.7" x2="1663.2" y2="1533" stroke="#707070" stroke-width="2.6" stroke-linecap="butt" />
<line x1="1729.4" y1="1520.7" x2="1729.4" y2="1533.5" stroke="#c4c4c4" stroke-width="5" stroke-linecap="butt" />
<line x1="1729.4" y1="1520.7" x2="1729.4" y2="1533" stroke="#707070" stroke-width="2.6" stroke-linecap="butt" />
<line x1="1795.6" y1="1520.7" x2="1795.6" y2="1533.5" stroke="#c4c4c4" stroke-width="5" stroke-linecap="butt" />
<line x1="1795.6" y1="1520.7" x2="1795.6" y2="1533" stroke="#707070" stroke-width="2.6" stroke-linecap="butt" />
<line x1="1861.8" y1="1520.7" x2="1861.8" y2="1533.5" stroke="#c4c4c4" stroke-width="5" stroke-linecap="butt" />
<line x1="1861.8" y1="1520.7" x2="1861.8" y2="1533" stroke="#707070" stroke-width="2.6" stroke-linecap="butt" />
<line x1="1928" y1="1520.7" x2="1928" y2="1533.5" stroke="#c4c4c4" stroke-width="5" stroke-linecap="butt" />
<line x1="1928" y1="1520.7" x2="1928" y2="1533" stroke="#707070" stroke-width="2.6" stroke-linecap="butt" />
<line x1="1994.2" y1="1520.7" x2="1994.2" y2="1533.5" stroke="#c4c4c4" stroke-width="5" stroke-linecap="butt" />
<line x1="1994.2" y1="1520.7" x2="1994.2" y2="1533" stroke="#707070" stroke-width="2.6" stroke-linecap="butt" />
<rect x="1233.6" y="887" width="792.4" height="633.7" fill="none" stroke="#c4c4c4" stroke-width="5.4"/>
<rect x="1233.6" y="887" width="792.4" height="633.7" fill="none" stroke="#6a6a6a" stroke-width="2.8"/>
<line x1="1233" y1="885.6" x2="1233" y2="1522.1" stroke="#4a4a4a" stroke-width="2.6" stroke-linecap="butt" />
<text class="t" transform="translate(1100.28 937.87) scale(0.9822 1)" font-size="68.38" fill="#000">0.20</text>
<text class="t" transform="translate(1100.29 1060.26) scale(0.9674 1)" font-size="69.12" fill="#000">0.16</text>
<text class="t" transform="translate(1099.03 1181.46) scale(0.9925 1)" font-size="69.12" fill="#000">0.12</text>
<text class="t" transform="translate(1100.28 1314.36) scale(0.9717 1)" font-size="69.12" fill="#000">0.08</text>
<text class="t" transform="translate(1097.86 1431.86) scale(0.9793 1)" font-size="69.12" fill="#000">0.04</text>
<text class="t" transform="translate(1100.28 1550.59) scale(0.9972 1)" font-size="67.35" fill="#000">0.00</text>
<text class="t" transform="translate(1083.78 1411.26) rotate(-90) scale(1.0145 1)" font-size="65.01" fill="#000">Abs (652 nm)</text>
<text class="t" transform="translate(1037.46 900.82) scale(1.0372 1)" font-size="97.59" fill="#000">d</text>
<text class="t" transform="translate(1279.4 1549.5) rotate(-66)" font-size="67" text-anchor="end">H<tspan font-size="34.84" dy="11.39" dx="-4.69">2</tspan><tspan dy="-11.39" dx="-4.42">O</tspan><tspan font-size="34.84" dy="11.39" dx="-6.37">2</tspan></text>
<text class="t" transform="translate(1355.2 1541.5) rotate(-66)" font-size="67" text-anchor="end">AA</text>
<text class="t" transform="translate(1418.9 1547.5) rotate(-66)" font-size="67" text-anchor="end" letter-spacing="-1.2">Glc</text>
<text class="t" transform="translate(1483.6 1548) rotate(-66)" font-size="67" text-anchor="end" letter-spacing="-0.6">Pro</text>
<text class="t" transform="translate(1551.8 1549) rotate(-66)" font-size="67" text-anchor="end">Gly</text>
<text class="t" transform="translate(1620 1545.5) rotate(-66)" font-size="67" text-anchor="end">Glu</text>
<text class="t" transform="translate(1687.2 1545) rotate(-66)" font-size="67" text-anchor="end">Ala</text>
<text class="t" transform="translate(1765.4 1545) rotate(-66)" font-size="67" text-anchor="end">Na<tspan font-size="38.19" dy="-22.78" dx="2.01">+</tspan></text>
<text class="t" transform="translate(1831.1 1549.5) rotate(-66)" font-size="67" text-anchor="end">K<tspan font-size="38.19" dy="-22.78" dx="2.01">+</tspan></text>
<text class="t" transform="translate(1897.8 1547) rotate(-66)" font-size="67" text-anchor="end">Ca<tspan font-size="38.19" dy="-22.78" dx="2.01">2+</tspan></text>
<text class="t" transform="translate(1964 1546) rotate(-66)" font-size="67" text-anchor="end">Mg<tspan font-size="38.19" dy="-22.78" dx="2.01">2+</tspan></text>
<text class="t" transform="translate(2032.2 1547.5) rotate(-66)" font-size="67" text-anchor="end">Mn<tspan font-size="38.19" dy="-22.78" dx="2.01">2+</tspan></text>
</svg>
</body>
</html>
